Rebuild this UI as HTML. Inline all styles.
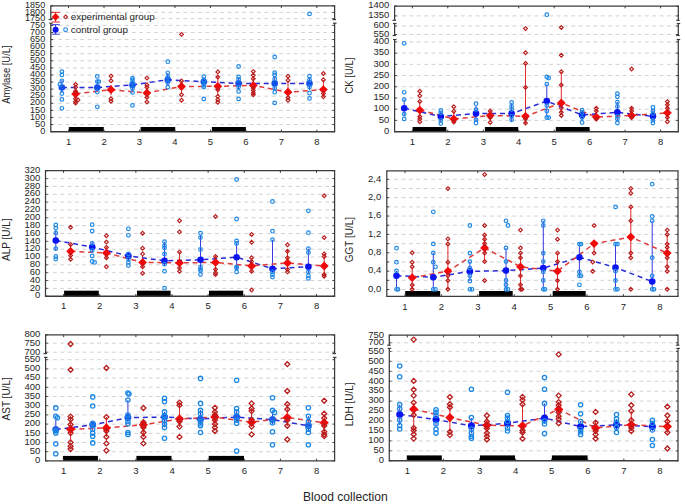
<!DOCTYPE html>
<html><head><meta charset="utf-8"><style>
html,body{margin:0;padding:0;background:#fff;}
svg{display:block;}
text{font-family:"Liberation Sans", sans-serif;fill:#262626;}
</style></head><body>
<svg width="685" height="504" viewBox="0 0 685 504">
<rect width="685" height="504" fill="#fff"/>
<line x1="52.8" y1="124.52" x2="332.6" y2="124.52" stroke="#d2d2d2" stroke-width="1.0" stroke-dasharray="3.8,3.56" stroke-dashoffset="1.9"/>
<line x1="52.8" y1="117.44" x2="332.6" y2="117.44" stroke="#d2d2d2" stroke-width="1.0" stroke-dasharray="3.8,3.56" stroke-dashoffset="1.9"/>
<line x1="52.8" y1="110.36" x2="332.6" y2="110.36" stroke="#d2d2d2" stroke-width="1.0" stroke-dasharray="3.8,3.56" stroke-dashoffset="1.9"/>
<line x1="52.8" y1="103.28" x2="332.6" y2="103.28" stroke="#d2d2d2" stroke-width="1.0" stroke-dasharray="3.8,3.56" stroke-dashoffset="1.9"/>
<line x1="52.8" y1="96.2" x2="332.6" y2="96.2" stroke="#d2d2d2" stroke-width="1.0" stroke-dasharray="3.8,3.56" stroke-dashoffset="1.9"/>
<line x1="52.8" y1="89.12" x2="332.6" y2="89.12" stroke="#d2d2d2" stroke-width="1.0" stroke-dasharray="3.8,3.56" stroke-dashoffset="1.9"/>
<line x1="52.8" y1="82.04" x2="332.6" y2="82.04" stroke="#d2d2d2" stroke-width="1.0" stroke-dasharray="3.8,3.56" stroke-dashoffset="1.9"/>
<line x1="52.8" y1="74.96" x2="332.6" y2="74.96" stroke="#d2d2d2" stroke-width="1.0" stroke-dasharray="3.8,3.56" stroke-dashoffset="1.9"/>
<line x1="52.8" y1="67.88" x2="332.6" y2="67.88" stroke="#d2d2d2" stroke-width="1.0" stroke-dasharray="3.8,3.56" stroke-dashoffset="1.9"/>
<line x1="52.8" y1="60.8" x2="332.6" y2="60.8" stroke="#d2d2d2" stroke-width="1.0" stroke-dasharray="3.8,3.56" stroke-dashoffset="1.9"/>
<line x1="52.8" y1="53.72" x2="332.6" y2="53.72" stroke="#d2d2d2" stroke-width="1.0" stroke-dasharray="3.8,3.56" stroke-dashoffset="1.9"/>
<line x1="52.8" y1="46.64" x2="332.6" y2="46.64" stroke="#d2d2d2" stroke-width="1.0" stroke-dasharray="3.8,3.56" stroke-dashoffset="1.9"/>
<line x1="52.8" y1="39.56" x2="332.6" y2="39.56" stroke="#d2d2d2" stroke-width="1.0" stroke-dasharray="3.8,3.56" stroke-dashoffset="1.9"/>
<line x1="52.8" y1="32.48" x2="332.6" y2="32.48" stroke="#d2d2d2" stroke-width="1.0" stroke-dasharray="3.8,3.56" stroke-dashoffset="1.9"/>
<line x1="52.8" y1="25.4" x2="332.6" y2="25.4" stroke="#d2d2d2" stroke-width="1.0" stroke-dasharray="3.8,3.56" stroke-dashoffset="1.9"/>
<line x1="52.8" y1="18.6" x2="332.6" y2="18.6" stroke="#d2d2d2" stroke-width="1.0" stroke-dasharray="3.8,3.56" stroke-dashoffset="1.9"/>
<line x1="52.8" y1="12.4" x2="332.6" y2="12.4" stroke="#d2d2d2" stroke-width="1.0" stroke-dasharray="3.8,3.56" stroke-dashoffset="1.9"/>
<rect x="68.8" y="127" width="35" height="4.8" fill="#000"/>
<rect x="140.6" y="127" width="34.6" height="4.8" fill="#000"/>
<rect x="211.9" y="127" width="34" height="4.8" fill="#000"/>
<line x1="61.9" y1="80" x2="61.9" y2="93" stroke="#3a3ae0" stroke-width="1" />
<line x1="75.6" y1="88" x2="75.6" y2="100" stroke="#e02a2a" stroke-width="1" />
<line x1="97.3" y1="81" x2="97.3" y2="92" stroke="#3a3ae0" stroke-width="1" />
<line x1="111" y1="85" x2="111" y2="95" stroke="#e02a2a" stroke-width="1" />
<line x1="132.5" y1="80" x2="132.5" y2="90" stroke="#3a3ae0" stroke-width="1" />
<line x1="146.9" y1="87" x2="146.9" y2="98" stroke="#e02a2a" stroke-width="1" />
<line x1="167.8" y1="73" x2="167.8" y2="86" stroke="#3a3ae0" stroke-width="1" />
<line x1="181.5" y1="81" x2="181.5" y2="94" stroke="#e02a2a" stroke-width="1" />
<line x1="203.8" y1="77" x2="203.8" y2="87" stroke="#3a3ae0" stroke-width="1" />
<line x1="217.8" y1="75" x2="217.8" y2="96" stroke="#e02a2a" stroke-width="1" />
<line x1="238.6" y1="77" x2="238.6" y2="90" stroke="#3a3ae0" stroke-width="1" />
<line x1="253.3" y1="78" x2="253.3" y2="93" stroke="#e02a2a" stroke-width="1" />
<line x1="274.7" y1="76" x2="274.7" y2="90" stroke="#3a3ae0" stroke-width="1" />
<line x1="288" y1="82" x2="288" y2="98" stroke="#e02a2a" stroke-width="1" />
<line x1="309.5" y1="77" x2="309.5" y2="90" stroke="#3a3ae0" stroke-width="1" />
<line x1="323.4" y1="80" x2="323.4" y2="97" stroke="#e02a2a" stroke-width="1" />
<polyline points="61.9,87.5 97.3,87.5 132.5,84.9 167.8,79.7 203.8,81.7 238.6,83.4 274.7,83.4 309.5,83.4" fill="none" stroke="#2b2bd6" stroke-width="1.5" stroke-dasharray="5,3.8"/>
<polyline points="75.6,93.9 111,89.7 146.9,92.9 181.5,86.5 217.8,86.3 253.3,85.4 288,92.2 323.4,89.6" fill="none" stroke="#e03a3a" stroke-width="1.5" stroke-dasharray="5,3.8"/>
<circle cx="61.9" cy="87.5" r="3.3" fill="#1350ea" stroke="none" stroke-width="0"/>
<path d="M75.6 89.5L80 93.9L75.6 98.3L71.2 93.9Z" fill="#f00a0a" stroke="none" stroke-width="0"/>
<circle cx="97.3" cy="87.5" r="3.3" fill="#1350ea" stroke="none" stroke-width="0"/>
<path d="M111 85.3L115.4 89.7L111 94.1L106.6 89.7Z" fill="#f00a0a" stroke="none" stroke-width="0"/>
<circle cx="132.5" cy="84.9" r="3.3" fill="#1350ea" stroke="none" stroke-width="0"/>
<path d="M146.9 88.5L151.3 92.9L146.9 97.3L142.5 92.9Z" fill="#f00a0a" stroke="none" stroke-width="0"/>
<circle cx="167.8" cy="79.7" r="3.3" fill="#1350ea" stroke="none" stroke-width="0"/>
<path d="M181.5 82.1L185.9 86.5L181.5 90.9L177.1 86.5Z" fill="#f00a0a" stroke="none" stroke-width="0"/>
<circle cx="203.8" cy="81.7" r="3.3" fill="#1350ea" stroke="none" stroke-width="0"/>
<path d="M217.8 81.9L222.2 86.3L217.8 90.7L213.4 86.3Z" fill="#f00a0a" stroke="none" stroke-width="0"/>
<circle cx="238.6" cy="83.4" r="3.3" fill="#1350ea" stroke="none" stroke-width="0"/>
<path d="M253.3 81L257.7 85.4L253.3 89.8L248.9 85.4Z" fill="#f00a0a" stroke="none" stroke-width="0"/>
<circle cx="274.7" cy="83.4" r="3.3" fill="#1350ea" stroke="none" stroke-width="0"/>
<path d="M288 87.8L292.4 92.2L288 96.6L283.6 92.2Z" fill="#f00a0a" stroke="none" stroke-width="0"/>
<circle cx="309.5" cy="83.4" r="3.3" fill="#1350ea" stroke="none" stroke-width="0"/>
<path d="M323.4 85.2L327.8 89.6L323.4 94L319 89.6Z" fill="#f00a0a" stroke="none" stroke-width="0"/>
<circle cx="61.9" cy="71.6" r="1.8" fill="none" stroke="#1e88e5" stroke-width="1.2"/>
<circle cx="61.9" cy="74.9" r="1.8" fill="none" stroke="#1e88e5" stroke-width="1.2"/>
<circle cx="61.9" cy="80.8" r="1.8" fill="none" stroke="#1e88e5" stroke-width="1.2"/>
<circle cx="59.9" cy="84.5" r="1.8" fill="none" stroke="#1e88e5" stroke-width="1.2"/>
<circle cx="61.9" cy="93.5" r="1.8" fill="none" stroke="#1e88e5" stroke-width="1.2"/>
<circle cx="61.9" cy="99.4" r="1.8" fill="none" stroke="#1e88e5" stroke-width="1.2"/>
<circle cx="61.9" cy="108.3" r="1.8" fill="none" stroke="#1e88e5" stroke-width="1.2"/>
<path d="M75.6 82.6L77.5 84.5L75.6 86.4L73.7 84.5Z" fill="none" stroke="#b81c1c" stroke-width="1.15"/>
<path d="M75.6 85.3L77.5 87.2L75.6 89.1L73.7 87.2Z" fill="none" stroke="#b81c1c" stroke-width="1.15"/>
<path d="M75.6 89.3L77.5 91.2L75.6 93.1L73.7 91.2Z" fill="none" stroke="#b81c1c" stroke-width="1.15"/>
<path d="M75.6 96.8L77.5 98.7L75.6 100.6L73.7 98.7Z" fill="none" stroke="#b81c1c" stroke-width="1.15"/>
<path d="M78 98L79.9 99.9L78 101.8L76.1 99.9Z" fill="none" stroke="#b81c1c" stroke-width="1.15"/>
<path d="M75.6 99.7L77.5 101.6L75.6 103.5L73.7 101.6Z" fill="none" stroke="#b81c1c" stroke-width="1.15"/>
<path d="M75.6 101.2L77.5 103.1L75.6 105L73.7 103.1Z" fill="none" stroke="#b81c1c" stroke-width="1.15"/>
<circle cx="97.3" cy="76.4" r="1.8" fill="none" stroke="#1e88e5" stroke-width="1.2"/>
<circle cx="97.3" cy="81.6" r="1.8" fill="none" stroke="#1e88e5" stroke-width="1.2"/>
<circle cx="98.8" cy="81.6" r="1.8" fill="none" stroke="#1e88e5" stroke-width="1.2"/>
<circle cx="97.3" cy="92" r="1.8" fill="none" stroke="#1e88e5" stroke-width="1.2"/>
<circle cx="97.3" cy="106.8" r="1.8" fill="none" stroke="#1e88e5" stroke-width="1.2"/>
<path d="M111 74.2L112.9 76.1L111 78L109.1 76.1Z" fill="none" stroke="#b81c1c" stroke-width="1.15"/>
<path d="M111 78.9L112.9 80.8L111 82.7L109.1 80.8Z" fill="none" stroke="#b81c1c" stroke-width="1.15"/>
<path d="M111 96.8L112.9 98.7L111 100.6L109.1 98.7Z" fill="none" stroke="#b81c1c" stroke-width="1.15"/>
<path d="M111 99.4L112.9 101.3L111 103.2L109.1 101.3Z" fill="none" stroke="#b81c1c" stroke-width="1.15"/>
<circle cx="132.5" cy="78.1" r="1.8" fill="none" stroke="#1e88e5" stroke-width="1.2"/>
<circle cx="132.5" cy="80" r="1.8" fill="none" stroke="#1e88e5" stroke-width="1.2"/>
<circle cx="132.5" cy="82.6" r="1.8" fill="none" stroke="#1e88e5" stroke-width="1.2"/>
<circle cx="132.5" cy="88.3" r="1.8" fill="none" stroke="#1e88e5" stroke-width="1.2"/>
<circle cx="132.5" cy="92.4" r="1.8" fill="none" stroke="#1e88e5" stroke-width="1.2"/>
<circle cx="132.5" cy="105.4" r="1.8" fill="none" stroke="#1e88e5" stroke-width="1.2"/>
<path d="M146.9 76.2L148.8 78.1L146.9 80L145 78.1Z" fill="none" stroke="#b81c1c" stroke-width="1.15"/>
<path d="M146.9 83L148.8 84.9L146.9 86.8L145 84.9Z" fill="none" stroke="#b81c1c" stroke-width="1.15"/>
<path d="M146.9 85.3L148.8 87.2L146.9 89.1L145 87.2Z" fill="none" stroke="#b81c1c" stroke-width="1.15"/>
<path d="M146.9 95.5L148.8 97.4L146.9 99.3L145 97.4Z" fill="none" stroke="#b81c1c" stroke-width="1.15"/>
<path d="M146.9 100.1L148.8 102L146.9 103.9L145 102Z" fill="none" stroke="#b81c1c" stroke-width="1.15"/>
<circle cx="167.8" cy="61.7" r="1.8" fill="none" stroke="#1e88e5" stroke-width="1.2"/>
<circle cx="167.8" cy="72.8" r="1.8" fill="none" stroke="#1e88e5" stroke-width="1.2"/>
<circle cx="167.8" cy="77" r="1.8" fill="none" stroke="#1e88e5" stroke-width="1.2"/>
<circle cx="167.8" cy="82.6" r="1.8" fill="none" stroke="#1e88e5" stroke-width="1.2"/>
<circle cx="167.8" cy="87.2" r="1.8" fill="none" stroke="#1e88e5" stroke-width="1.2"/>
<path d="M181.5 32.5L183.4 34.4L181.5 36.3L179.6 34.4Z" fill="none" stroke="#b81c1c" stroke-width="1.15"/>
<path d="M181.5 79.1L183.4 81L181.5 82.9L179.6 81Z" fill="none" stroke="#b81c1c" stroke-width="1.15"/>
<path d="M181.5 92.8L183.4 94.7L181.5 96.6L179.6 94.7Z" fill="none" stroke="#b81c1c" stroke-width="1.15"/>
<path d="M181.5 98.3L183.4 100.2L181.5 102.1L179.6 100.2Z" fill="none" stroke="#b81c1c" stroke-width="1.15"/>
<circle cx="203.8" cy="76.7" r="1.8" fill="none" stroke="#1e88e5" stroke-width="1.2"/>
<circle cx="203.8" cy="80.4" r="1.8" fill="none" stroke="#1e88e5" stroke-width="1.2"/>
<circle cx="203.8" cy="85.4" r="1.8" fill="none" stroke="#1e88e5" stroke-width="1.2"/>
<circle cx="203.8" cy="87.1" r="1.8" fill="none" stroke="#1e88e5" stroke-width="1.2"/>
<circle cx="203.8" cy="98.9" r="1.8" fill="none" stroke="#1e88e5" stroke-width="1.2"/>
<path d="M217.8 70L219.7 71.9L217.8 73.8L215.9 71.9Z" fill="none" stroke="#b81c1c" stroke-width="1.15"/>
<path d="M217.8 75.1L219.7 77L217.8 78.9L215.9 77Z" fill="none" stroke="#b81c1c" stroke-width="1.15"/>
<path d="M217.8 87.8L219.7 89.7L217.8 91.6L215.9 89.7Z" fill="none" stroke="#b81c1c" stroke-width="1.15"/>
<path d="M217.8 94.5L219.7 96.4L217.8 98.3L215.9 96.4Z" fill="none" stroke="#b81c1c" stroke-width="1.15"/>
<path d="M217.8 97.9L219.7 99.8L217.8 101.7L215.9 99.8Z" fill="none" stroke="#b81c1c" stroke-width="1.15"/>
<path d="M217.8 100.4L219.7 102.3L217.8 104.2L215.9 102.3Z" fill="none" stroke="#b81c1c" stroke-width="1.15"/>
<circle cx="238.6" cy="66.5" r="1.8" fill="none" stroke="#1e88e5" stroke-width="1.2"/>
<circle cx="238.6" cy="77" r="1.8" fill="none" stroke="#1e88e5" stroke-width="1.2"/>
<circle cx="238.6" cy="79.5" r="1.8" fill="none" stroke="#1e88e5" stroke-width="1.2"/>
<circle cx="238.6" cy="87.1" r="1.8" fill="none" stroke="#1e88e5" stroke-width="1.2"/>
<circle cx="238.6" cy="91.4" r="1.8" fill="none" stroke="#1e88e5" stroke-width="1.2"/>
<circle cx="238.6" cy="98.9" r="1.8" fill="none" stroke="#1e88e5" stroke-width="1.2"/>
<path d="M253.3 69.7L255.2 71.6L253.3 73.5L251.4 71.6Z" fill="none" stroke="#b81c1c" stroke-width="1.15"/>
<path d="M253.3 73.4L255.2 75.3L253.3 77.2L251.4 75.3Z" fill="none" stroke="#b81c1c" stroke-width="1.15"/>
<path d="M253.3 76.8L255.2 78.7L253.3 80.6L251.4 78.7Z" fill="none" stroke="#b81c1c" stroke-width="1.15"/>
<path d="M253.3 86.1L255.2 88L253.3 89.9L251.4 88Z" fill="none" stroke="#b81c1c" stroke-width="1.15"/>
<path d="M253.3 88.6L255.2 90.5L253.3 92.4L251.4 90.5Z" fill="none" stroke="#b81c1c" stroke-width="1.15"/>
<path d="M253.3 91.1L255.2 93L253.3 94.9L251.4 93Z" fill="none" stroke="#b81c1c" stroke-width="1.15"/>
<path d="M253.3 92.8L255.2 94.7L253.3 96.6L251.4 94.7Z" fill="none" stroke="#b81c1c" stroke-width="1.15"/>
<circle cx="274.7" cy="57" r="1.8" fill="none" stroke="#1e88e5" stroke-width="1.2"/>
<circle cx="274.7" cy="72.7" r="1.8" fill="none" stroke="#1e88e5" stroke-width="1.2"/>
<circle cx="274.7" cy="74.9" r="1.8" fill="none" stroke="#1e88e5" stroke-width="1.2"/>
<circle cx="274.7" cy="78.9" r="1.8" fill="none" stroke="#1e88e5" stroke-width="1.2"/>
<circle cx="274.7" cy="88.2" r="1.8" fill="none" stroke="#1e88e5" stroke-width="1.2"/>
<circle cx="274.7" cy="92.2" r="1.8" fill="none" stroke="#1e88e5" stroke-width="1.2"/>
<circle cx="274.7" cy="102.9" r="1.8" fill="none" stroke="#1e88e5" stroke-width="1.2"/>
<path d="M288 74.3L289.9 76.2L288 78.1L286.1 76.2Z" fill="none" stroke="#b81c1c" stroke-width="1.15"/>
<path d="M288 78.3L289.9 80.2L288 82.1L286.1 80.2Z" fill="none" stroke="#b81c1c" stroke-width="1.15"/>
<path d="M288 95.7L289.9 97.6L288 99.5L286.1 97.6Z" fill="none" stroke="#b81c1c" stroke-width="1.15"/>
<path d="M288 98.4L289.9 100.3L288 102.2L286.1 100.3Z" fill="none" stroke="#b81c1c" stroke-width="1.15"/>
<circle cx="309.5" cy="13.9" r="1.8" fill="none" stroke="#1e88e5" stroke-width="1.2"/>
<circle cx="309.5" cy="76.2" r="1.8" fill="none" stroke="#1e88e5" stroke-width="1.2"/>
<circle cx="309.5" cy="79.7" r="1.8" fill="none" stroke="#1e88e5" stroke-width="1.2"/>
<circle cx="309.5" cy="86.9" r="1.8" fill="none" stroke="#1e88e5" stroke-width="1.2"/>
<circle cx="309.5" cy="93" r="1.8" fill="none" stroke="#1e88e5" stroke-width="1.2"/>
<circle cx="309.5" cy="98.4" r="1.8" fill="none" stroke="#1e88e5" stroke-width="1.2"/>
<path d="M323.4 71.6L325.3 73.5L323.4 75.4L321.5 73.5Z" fill="none" stroke="#b81c1c" stroke-width="1.15"/>
<path d="M323.4 77.8L325.3 79.7L323.4 81.6L321.5 79.7Z" fill="none" stroke="#b81c1c" stroke-width="1.15"/>
<path d="M323.4 91.7L325.3 93.6L323.4 95.5L321.5 93.6Z" fill="none" stroke="#b81c1c" stroke-width="1.15"/>
<path d="M323.4 94.9L325.3 96.8L323.4 98.7L321.5 96.8Z" fill="none" stroke="#b81c1c" stroke-width="1.15"/>
<line x1="50.8" y1="5.8" x2="50.8" y2="19.6" stroke="#3c3c3c" stroke-width="1.25" />
<line x1="50.8" y1="23.2" x2="50.8" y2="131.8" stroke="#3c3c3c" stroke-width="1.25" />
<line x1="48.7" y1="19.6" x2="52.2" y2="19.6" stroke="#3c3c3c" stroke-width="1.2" />
<line x1="49.2" y1="23.2" x2="52.7" y2="23.2" stroke="#3c3c3c" stroke-width="1.2" />
<line x1="334.6" y1="5.8" x2="334.6" y2="19.6" stroke="#3c3c3c" stroke-width="1.25" />
<line x1="334.6" y1="23.2" x2="334.6" y2="131.8" stroke="#3c3c3c" stroke-width="1.25" />
<line x1="332.5" y1="19.6" x2="336" y2="19.6" stroke="#3c3c3c" stroke-width="1.2" />
<line x1="333" y1="23.2" x2="336.5" y2="23.2" stroke="#3c3c3c" stroke-width="1.2" />
<line x1="50.2" y1="5.8" x2="335.2" y2="5.8" stroke="#3c3c3c" stroke-width="1.3" />
<line x1="50.2" y1="131.8" x2="335.2" y2="131.8" stroke="#3c3c3c" stroke-width="1.4" />
<line x1="50.8" y1="131.6" x2="53" y2="131.6" stroke="#3c3c3c" stroke-width="1" />
<line x1="334.6" y1="131.6" x2="332.4" y2="131.6" stroke="#3c3c3c" stroke-width="1" />
<line x1="50.8" y1="124.52" x2="53" y2="124.52" stroke="#3c3c3c" stroke-width="1" />
<line x1="334.6" y1="124.52" x2="332.4" y2="124.52" stroke="#3c3c3c" stroke-width="1" />
<line x1="50.8" y1="117.44" x2="53" y2="117.44" stroke="#3c3c3c" stroke-width="1" />
<line x1="334.6" y1="117.44" x2="332.4" y2="117.44" stroke="#3c3c3c" stroke-width="1" />
<line x1="50.8" y1="110.36" x2="53" y2="110.36" stroke="#3c3c3c" stroke-width="1" />
<line x1="334.6" y1="110.36" x2="332.4" y2="110.36" stroke="#3c3c3c" stroke-width="1" />
<line x1="50.8" y1="103.28" x2="53" y2="103.28" stroke="#3c3c3c" stroke-width="1" />
<line x1="334.6" y1="103.28" x2="332.4" y2="103.28" stroke="#3c3c3c" stroke-width="1" />
<line x1="50.8" y1="96.2" x2="53" y2="96.2" stroke="#3c3c3c" stroke-width="1" />
<line x1="334.6" y1="96.2" x2="332.4" y2="96.2" stroke="#3c3c3c" stroke-width="1" />
<line x1="50.8" y1="89.12" x2="53" y2="89.12" stroke="#3c3c3c" stroke-width="1" />
<line x1="334.6" y1="89.12" x2="332.4" y2="89.12" stroke="#3c3c3c" stroke-width="1" />
<line x1="50.8" y1="82.04" x2="53" y2="82.04" stroke="#3c3c3c" stroke-width="1" />
<line x1="334.6" y1="82.04" x2="332.4" y2="82.04" stroke="#3c3c3c" stroke-width="1" />
<line x1="50.8" y1="74.96" x2="53" y2="74.96" stroke="#3c3c3c" stroke-width="1" />
<line x1="334.6" y1="74.96" x2="332.4" y2="74.96" stroke="#3c3c3c" stroke-width="1" />
<line x1="50.8" y1="67.88" x2="53" y2="67.88" stroke="#3c3c3c" stroke-width="1" />
<line x1="334.6" y1="67.88" x2="332.4" y2="67.88" stroke="#3c3c3c" stroke-width="1" />
<line x1="50.8" y1="60.8" x2="53" y2="60.8" stroke="#3c3c3c" stroke-width="1" />
<line x1="334.6" y1="60.8" x2="332.4" y2="60.8" stroke="#3c3c3c" stroke-width="1" />
<line x1="50.8" y1="53.72" x2="53" y2="53.72" stroke="#3c3c3c" stroke-width="1" />
<line x1="334.6" y1="53.72" x2="332.4" y2="53.72" stroke="#3c3c3c" stroke-width="1" />
<line x1="50.8" y1="46.64" x2="53" y2="46.64" stroke="#3c3c3c" stroke-width="1" />
<line x1="334.6" y1="46.64" x2="332.4" y2="46.64" stroke="#3c3c3c" stroke-width="1" />
<line x1="50.8" y1="39.56" x2="53" y2="39.56" stroke="#3c3c3c" stroke-width="1" />
<line x1="334.6" y1="39.56" x2="332.4" y2="39.56" stroke="#3c3c3c" stroke-width="1" />
<line x1="50.8" y1="32.48" x2="53" y2="32.48" stroke="#3c3c3c" stroke-width="1" />
<line x1="334.6" y1="32.48" x2="332.4" y2="32.48" stroke="#3c3c3c" stroke-width="1" />
<line x1="50.8" y1="25.4" x2="53" y2="25.4" stroke="#3c3c3c" stroke-width="1" />
<line x1="334.6" y1="25.4" x2="332.4" y2="25.4" stroke="#3c3c3c" stroke-width="1" />
<line x1="50.8" y1="18.6" x2="53" y2="18.6" stroke="#3c3c3c" stroke-width="1" />
<line x1="334.6" y1="18.6" x2="332.4" y2="18.6" stroke="#3c3c3c" stroke-width="1" />
<line x1="50.8" y1="12.4" x2="53" y2="12.4" stroke="#3c3c3c" stroke-width="1" />
<line x1="334.6" y1="12.4" x2="332.4" y2="12.4" stroke="#3c3c3c" stroke-width="1" />
<line x1="50.8" y1="5.8" x2="53" y2="5.8" stroke="#3c3c3c" stroke-width="1" />
<line x1="334.6" y1="5.8" x2="332.4" y2="5.8" stroke="#3c3c3c" stroke-width="1" />
<line x1="68.54" y1="5.8" x2="68.54" y2="8" stroke="#3c3c3c" stroke-width="1" />
<line x1="68.54" y1="131.8" x2="68.54" y2="129.6" stroke="#3c3c3c" stroke-width="1" />
<line x1="104.01" y1="5.8" x2="104.01" y2="8" stroke="#3c3c3c" stroke-width="1" />
<line x1="104.01" y1="131.8" x2="104.01" y2="129.6" stroke="#3c3c3c" stroke-width="1" />
<line x1="139.49" y1="5.8" x2="139.49" y2="8" stroke="#3c3c3c" stroke-width="1" />
<line x1="139.49" y1="131.8" x2="139.49" y2="129.6" stroke="#3c3c3c" stroke-width="1" />
<line x1="174.96" y1="5.8" x2="174.96" y2="8" stroke="#3c3c3c" stroke-width="1" />
<line x1="174.96" y1="131.8" x2="174.96" y2="129.6" stroke="#3c3c3c" stroke-width="1" />
<line x1="210.44" y1="5.8" x2="210.44" y2="8" stroke="#3c3c3c" stroke-width="1" />
<line x1="210.44" y1="131.8" x2="210.44" y2="129.6" stroke="#3c3c3c" stroke-width="1" />
<line x1="245.91" y1="5.8" x2="245.91" y2="8" stroke="#3c3c3c" stroke-width="1" />
<line x1="245.91" y1="131.8" x2="245.91" y2="129.6" stroke="#3c3c3c" stroke-width="1" />
<line x1="281.39" y1="5.8" x2="281.39" y2="8" stroke="#3c3c3c" stroke-width="1" />
<line x1="281.39" y1="131.8" x2="281.39" y2="129.6" stroke="#3c3c3c" stroke-width="1" />
<line x1="316.86" y1="5.8" x2="316.86" y2="8" stroke="#3c3c3c" stroke-width="1" />
<line x1="316.86" y1="131.8" x2="316.86" y2="129.6" stroke="#3c3c3c" stroke-width="1" />
<text transform="translate(45.2,133.8) scale(0.96,1.0)" font-size="9.5" text-anchor="end">0</text>
<text transform="translate(45.2,126.72) scale(0.96,1.0)" font-size="9.5" text-anchor="end">50</text>
<text transform="translate(45.2,119.64) scale(0.96,1.0)" font-size="9.5" text-anchor="end">100</text>
<text transform="translate(45.2,112.56) scale(0.96,1.0)" font-size="9.5" text-anchor="end">150</text>
<text transform="translate(45.2,105.48) scale(0.96,1.0)" font-size="9.5" text-anchor="end">200</text>
<text transform="translate(45.2,98.4) scale(0.96,1.0)" font-size="9.5" text-anchor="end">250</text>
<text transform="translate(45.2,91.32) scale(0.96,1.0)" font-size="9.5" text-anchor="end">300</text>
<text transform="translate(45.2,84.24) scale(0.96,1.0)" font-size="9.5" text-anchor="end">350</text>
<text transform="translate(45.2,77.16) scale(0.96,1.0)" font-size="9.5" text-anchor="end">400</text>
<text transform="translate(45.2,70.08) scale(0.96,1.0)" font-size="9.5" text-anchor="end">450</text>
<text transform="translate(45.2,63) scale(0.96,1.0)" font-size="9.5" text-anchor="end">500</text>
<text transform="translate(45.2,55.92) scale(0.96,1.0)" font-size="9.5" text-anchor="end">550</text>
<text transform="translate(45.2,48.84) scale(0.96,1.0)" font-size="9.5" text-anchor="end">600</text>
<text transform="translate(45.2,41.76) scale(0.96,1.0)" font-size="9.5" text-anchor="end">650</text>
<text transform="translate(45.2,34.68) scale(0.96,1.0)" font-size="9.5" text-anchor="end">700</text>
<text transform="translate(45.2,27.6) scale(0.96,1.0)" font-size="9.5" text-anchor="end">750</text>
<text transform="translate(45.2,20.8) scale(0.96,1.0)" font-size="9.5" text-anchor="end">1750</text>
<text transform="translate(45.2,14.6) scale(0.96,1.0)" font-size="9.5" text-anchor="end">1800</text>
<text transform="translate(45.2,8.1) scale(0.96,1.0)" font-size="9.5" text-anchor="end">1850</text>
<text transform="translate(68.54,145) scale(1,1.04)" font-size="9.5" text-anchor="middle">1</text>
<text transform="translate(104.01,145) scale(1,1.04)" font-size="9.5" text-anchor="middle">2</text>
<text transform="translate(139.49,145) scale(1,1.04)" font-size="9.5" text-anchor="middle">3</text>
<text transform="translate(174.96,145) scale(1,1.04)" font-size="9.5" text-anchor="middle">4</text>
<text transform="translate(210.44,145) scale(1,1.04)" font-size="9.5" text-anchor="middle">5</text>
<text transform="translate(245.91,145) scale(1,1.04)" font-size="9.5" text-anchor="middle">6</text>
<text transform="translate(281.39,145) scale(1,1.04)" font-size="9.5" text-anchor="middle">7</text>
<text transform="translate(316.86,145) scale(1,1.04)" font-size="9.5" text-anchor="middle">8</text>
<text transform="translate(9.6,74.65) rotate(-90) scale(0.94,1)" font-size="10" text-anchor="middle">Amylase [U/L]</text>
<line x1="396.6" y1="120.39" x2="676.3" y2="120.39" stroke="#d2d2d2" stroke-width="1.0" stroke-dasharray="3.8,3.56" stroke-dashoffset="1.9"/>
<line x1="396.6" y1="109.18" x2="676.3" y2="109.18" stroke="#d2d2d2" stroke-width="1.0" stroke-dasharray="3.8,3.56" stroke-dashoffset="1.9"/>
<line x1="396.6" y1="97.97" x2="676.3" y2="97.97" stroke="#d2d2d2" stroke-width="1.0" stroke-dasharray="3.8,3.56" stroke-dashoffset="1.9"/>
<line x1="396.6" y1="86.76" x2="676.3" y2="86.76" stroke="#d2d2d2" stroke-width="1.0" stroke-dasharray="3.8,3.56" stroke-dashoffset="1.9"/>
<line x1="396.6" y1="75.55" x2="676.3" y2="75.55" stroke="#d2d2d2" stroke-width="1.0" stroke-dasharray="3.8,3.56" stroke-dashoffset="1.9"/>
<line x1="396.6" y1="64.34" x2="676.3" y2="64.34" stroke="#d2d2d2" stroke-width="1.0" stroke-dasharray="3.8,3.56" stroke-dashoffset="1.9"/>
<line x1="396.6" y1="53.13" x2="676.3" y2="53.13" stroke="#d2d2d2" stroke-width="1.0" stroke-dasharray="3.8,3.56" stroke-dashoffset="1.9"/>
<line x1="396.6" y1="41.92" x2="676.3" y2="41.92" stroke="#d2d2d2" stroke-width="1.0" stroke-dasharray="3.8,3.56" stroke-dashoffset="1.9"/>
<line x1="396.6" y1="34.5" x2="676.3" y2="34.5" stroke="#d2d2d2" stroke-width="1.0" stroke-dasharray="3.8,3.56" stroke-dashoffset="1.9"/>
<line x1="396.6" y1="26" x2="676.3" y2="26" stroke="#d2d2d2" stroke-width="1.0" stroke-dasharray="3.8,3.56" stroke-dashoffset="1.9"/>
<line x1="396.6" y1="15.9" x2="676.3" y2="15.9" stroke="#d2d2d2" stroke-width="1.0" stroke-dasharray="3.8,3.56" stroke-dashoffset="1.9"/>
<rect x="412.6" y="127" width="33.8" height="4.8" fill="#000"/>
<rect x="484.9" y="127" width="33.3" height="4.8" fill="#000"/>
<rect x="555.8" y="127" width="33.8" height="4.8" fill="#000"/>
<line x1="404.2" y1="99.6" x2="404.2" y2="116" stroke="#3a3ae0" stroke-width="1" />
<line x1="419.8" y1="101.5" x2="419.8" y2="119" stroke="#e02a2a" stroke-width="1" />
<line x1="440.8" y1="111" x2="440.8" y2="122" stroke="#3a3ae0" stroke-width="1" />
<line x1="453.8" y1="111" x2="453.8" y2="123" stroke="#e02a2a" stroke-width="1" />
<line x1="476" y1="106" x2="476" y2="121" stroke="#3a3ae0" stroke-width="1" />
<line x1="490.2" y1="110" x2="490.2" y2="121" stroke="#e02a2a" stroke-width="1" />
<line x1="511.6" y1="103" x2="511.6" y2="122" stroke="#3a3ae0" stroke-width="1" />
<line x1="525.5" y1="63.4" x2="525.5" y2="125" stroke="#e02a2a" stroke-width="1" />
<line x1="546.8" y1="84.2" x2="546.8" y2="117" stroke="#3a3ae0" stroke-width="1" />
<line x1="561.3" y1="71.7" x2="561.3" y2="115" stroke="#e02a2a" stroke-width="1" />
<line x1="582.1" y1="110" x2="582.1" y2="120" stroke="#3a3ae0" stroke-width="1" />
<line x1="596.3" y1="109" x2="596.3" y2="121" stroke="#e02a2a" stroke-width="1" />
<line x1="617.4" y1="102" x2="617.4" y2="120" stroke="#3a3ae0" stroke-width="1" />
<line x1="631.6" y1="108" x2="631.6" y2="120" stroke="#e02a2a" stroke-width="1" />
<line x1="652.9" y1="109" x2="652.9" y2="122" stroke="#3a3ae0" stroke-width="1" />
<line x1="667.4" y1="104" x2="667.4" y2="120" stroke="#e02a2a" stroke-width="1" />
<polyline points="404.2,108.2 440.8,116.5 476,113.6 511.6,113.6 546.8,101.1 582.1,115 617.4,112.3 652.9,116.3" fill="none" stroke="#2b2bd6" stroke-width="1.5" stroke-dasharray="5,3.8"/>
<polyline points="419.8,110.1 453.8,119 490.2,115.5 525.5,116.3 561.3,102.9 596.3,117.1 631.6,115.5 667.4,112.8" fill="none" stroke="#e03a3a" stroke-width="1.5" stroke-dasharray="5,3.8"/>
<circle cx="404.2" cy="108.2" r="3.3" fill="#0a14f0" stroke="none" stroke-width="0"/>
<path d="M419.8 105.7L424.2 110.1L419.8 114.5L415.4 110.1Z" fill="#f00a0a" stroke="none" stroke-width="0"/>
<circle cx="440.8" cy="116.5" r="3.3" fill="#0a14f0" stroke="none" stroke-width="0"/>
<path d="M453.8 114.6L458.2 119L453.8 123.4L449.4 119Z" fill="#f00a0a" stroke="none" stroke-width="0"/>
<circle cx="476" cy="113.6" r="3.3" fill="#0a14f0" stroke="none" stroke-width="0"/>
<path d="M490.2 111.1L494.6 115.5L490.2 119.9L485.8 115.5Z" fill="#f00a0a" stroke="none" stroke-width="0"/>
<circle cx="511.6" cy="113.6" r="3.3" fill="#0a14f0" stroke="none" stroke-width="0"/>
<path d="M525.5 111.9L529.9 116.3L525.5 120.7L521.1 116.3Z" fill="#f00a0a" stroke="none" stroke-width="0"/>
<circle cx="546.8" cy="101.1" r="3.3" fill="#0a14f0" stroke="none" stroke-width="0"/>
<path d="M561.3 98.5L565.7 102.9L561.3 107.3L556.9 102.9Z" fill="#f00a0a" stroke="none" stroke-width="0"/>
<circle cx="582.1" cy="115" r="3.3" fill="#0a14f0" stroke="none" stroke-width="0"/>
<path d="M596.3 112.7L600.7 117.1L596.3 121.5L591.9 117.1Z" fill="#f00a0a" stroke="none" stroke-width="0"/>
<circle cx="617.4" cy="112.3" r="3.3" fill="#0a14f0" stroke="none" stroke-width="0"/>
<path d="M631.6 111.1L636 115.5L631.6 119.9L627.2 115.5Z" fill="#f00a0a" stroke="none" stroke-width="0"/>
<circle cx="652.9" cy="116.3" r="3.3" fill="#0a14f0" stroke="none" stroke-width="0"/>
<path d="M667.4 108.4L671.8 112.8L667.4 117.2L663 112.8Z" fill="#f00a0a" stroke="none" stroke-width="0"/>
<circle cx="404.2" cy="43.3" r="1.8" fill="none" stroke="#1e88e5" stroke-width="1.2"/>
<circle cx="404.2" cy="92.3" r="1.8" fill="none" stroke="#1e88e5" stroke-width="1.2"/>
<circle cx="404.2" cy="99.6" r="1.8" fill="none" stroke="#1e88e5" stroke-width="1.2"/>
<circle cx="404.2" cy="114.1" r="1.8" fill="none" stroke="#1e88e5" stroke-width="1.2"/>
<circle cx="404.2" cy="118.9" r="1.8" fill="none" stroke="#1e88e5" stroke-width="1.2"/>
<path d="M419.8 89.3L421.7 91.2L419.8 93.1L417.9 91.2Z" fill="none" stroke="#b81c1c" stroke-width="1.15"/>
<path d="M419.8 93.9L421.7 95.8L419.8 97.7L417.9 95.8Z" fill="none" stroke="#b81c1c" stroke-width="1.15"/>
<path d="M419.8 99.6L421.7 101.5L419.8 103.4L417.9 101.5Z" fill="none" stroke="#b81c1c" stroke-width="1.15"/>
<path d="M419.8 114.6L421.7 116.5L419.8 118.4L417.9 116.5Z" fill="none" stroke="#b81c1c" stroke-width="1.15"/>
<path d="M419.8 117L421.7 118.9L419.8 120.8L417.9 118.9Z" fill="none" stroke="#b81c1c" stroke-width="1.15"/>
<path d="M419.8 119.8L421.7 121.7L419.8 123.6L417.9 121.7Z" fill="none" stroke="#b81c1c" stroke-width="1.15"/>
<circle cx="440.8" cy="110.4" r="1.8" fill="none" stroke="#1e88e5" stroke-width="1.2"/>
<circle cx="440.8" cy="112.8" r="1.8" fill="none" stroke="#1e88e5" stroke-width="1.2"/>
<circle cx="440.8" cy="120.3" r="1.8" fill="none" stroke="#1e88e5" stroke-width="1.2"/>
<circle cx="440.8" cy="123.6" r="1.8" fill="none" stroke="#1e88e5" stroke-width="1.2"/>
<path d="M453.8 104.8L455.7 106.7L453.8 108.6L451.9 106.7Z" fill="none" stroke="#b81c1c" stroke-width="1.15"/>
<path d="M453.8 109.3L455.7 111.2L453.8 113.1L451.9 111.2Z" fill="none" stroke="#b81c1c" stroke-width="1.15"/>
<path d="M453.8 120.1L455.7 122L453.8 123.9L451.9 122Z" fill="none" stroke="#b81c1c" stroke-width="1.15"/>
<circle cx="476" cy="103.7" r="1.8" fill="none" stroke="#1e88e5" stroke-width="1.2"/>
<circle cx="476" cy="109.6" r="1.8" fill="none" stroke="#1e88e5" stroke-width="1.2"/>
<circle cx="476" cy="119.8" r="1.8" fill="none" stroke="#1e88e5" stroke-width="1.2"/>
<circle cx="476" cy="123" r="1.8" fill="none" stroke="#1e88e5" stroke-width="1.2"/>
<path d="M490.2 109.1L492.1 111L490.2 112.9L488.3 111Z" fill="none" stroke="#b81c1c" stroke-width="1.15"/>
<path d="M490.2 115.7L492.1 117.6L490.2 119.5L488.3 117.6Z" fill="none" stroke="#b81c1c" stroke-width="1.15"/>
<path d="M490.2 120.6L492.1 122.5L490.2 124.4L488.3 122.5Z" fill="none" stroke="#b81c1c" stroke-width="1.15"/>
<circle cx="511.6" cy="102.4" r="1.8" fill="none" stroke="#1e88e5" stroke-width="1.2"/>
<circle cx="511.6" cy="106.4" r="1.8" fill="none" stroke="#1e88e5" stroke-width="1.2"/>
<circle cx="511.6" cy="109.6" r="1.8" fill="none" stroke="#1e88e5" stroke-width="1.2"/>
<circle cx="511.6" cy="116.3" r="1.8" fill="none" stroke="#1e88e5" stroke-width="1.2"/>
<circle cx="511.6" cy="119.8" r="1.8" fill="none" stroke="#1e88e5" stroke-width="1.2"/>
<path d="M525.5 26.7L527.4 28.6L525.5 30.5L523.6 28.6Z" fill="none" stroke="#b81c1c" stroke-width="1.15"/>
<path d="M525.5 50.8L527.4 52.7L525.5 54.6L523.6 52.7Z" fill="none" stroke="#b81c1c" stroke-width="1.15"/>
<path d="M525.5 61.5L527.4 63.4L525.5 65.3L523.6 63.4Z" fill="none" stroke="#b81c1c" stroke-width="1.15"/>
<path d="M525.5 85.5L527.4 87.4L525.5 89.3L523.6 87.4Z" fill="none" stroke="#b81c1c" stroke-width="1.15"/>
<path d="M525.5 117.1L527.4 119L525.5 120.9L523.6 119Z" fill="none" stroke="#b81c1c" stroke-width="1.15"/>
<path d="M525.5 121.1L527.4 123L525.5 124.9L523.6 123Z" fill="none" stroke="#b81c1c" stroke-width="1.15"/>
<circle cx="546.8" cy="14.7" r="1.8" fill="none" stroke="#1e88e5" stroke-width="1.2"/>
<circle cx="546.8" cy="77" r="1.8" fill="none" stroke="#1e88e5" stroke-width="1.2"/>
<circle cx="548.7" cy="78.1" r="1.8" fill="none" stroke="#1e88e5" stroke-width="1.2"/>
<circle cx="546.8" cy="84.2" r="1.8" fill="none" stroke="#1e88e5" stroke-width="1.2"/>
<circle cx="546.8" cy="105.6" r="1.8" fill="none" stroke="#1e88e5" stroke-width="1.2"/>
<circle cx="546.8" cy="111" r="1.8" fill="none" stroke="#1e88e5" stroke-width="1.2"/>
<circle cx="546.8" cy="117.6" r="1.8" fill="none" stroke="#1e88e5" stroke-width="1.2"/>
<circle cx="548.7" cy="117.6" r="1.8" fill="none" stroke="#1e88e5" stroke-width="1.2"/>
<path d="M561.3 25.6L563.2 27.5L561.3 29.4L559.4 27.5Z" fill="none" stroke="#b81c1c" stroke-width="1.15"/>
<path d="M561.3 53.4L563.2 55.3L561.3 57.2L559.4 55.3Z" fill="none" stroke="#b81c1c" stroke-width="1.15"/>
<path d="M561.3 69.8L563.2 71.7L561.3 73.6L559.4 71.7Z" fill="none" stroke="#b81c1c" stroke-width="1.15"/>
<path d="M561.3 83.1L563.2 85L561.3 86.9L559.4 85Z" fill="none" stroke="#b81c1c" stroke-width="1.15"/>
<path d="M561.3 106.1L563.2 108L561.3 109.9L559.4 108Z" fill="none" stroke="#b81c1c" stroke-width="1.15"/>
<path d="M561.3 110.4L563.2 112.3L561.3 114.2L559.4 112.3Z" fill="none" stroke="#b81c1c" stroke-width="1.15"/>
<path d="M561.3 113.6L563.2 115.5L561.3 117.4L559.4 115.5Z" fill="none" stroke="#b81c1c" stroke-width="1.15"/>
<circle cx="582.1" cy="110.2" r="1.8" fill="none" stroke="#1e88e5" stroke-width="1.2"/>
<circle cx="582.1" cy="112.5" r="1.8" fill="none" stroke="#1e88e5" stroke-width="1.2"/>
<circle cx="582.1" cy="117.6" r="1.8" fill="none" stroke="#1e88e5" stroke-width="1.2"/>
<circle cx="582.1" cy="122.5" r="1.8" fill="none" stroke="#1e88e5" stroke-width="1.2"/>
<path d="M596.3 106.4L598.2 108.3L596.3 110.2L594.4 108.3Z" fill="none" stroke="#b81c1c" stroke-width="1.15"/>
<path d="M596.3 109.1L598.2 111L596.3 112.9L594.4 111Z" fill="none" stroke="#b81c1c" stroke-width="1.15"/>
<path d="M596.3 117.1L598.2 119L596.3 120.9L594.4 119Z" fill="none" stroke="#b81c1c" stroke-width="1.15"/>
<circle cx="617.4" cy="93.6" r="1.8" fill="none" stroke="#1e88e5" stroke-width="1.2"/>
<circle cx="617.4" cy="96.8" r="1.8" fill="none" stroke="#1e88e5" stroke-width="1.2"/>
<circle cx="617.4" cy="102.1" r="1.8" fill="none" stroke="#1e88e5" stroke-width="1.2"/>
<circle cx="617.4" cy="106.4" r="1.8" fill="none" stroke="#1e88e5" stroke-width="1.2"/>
<circle cx="617.4" cy="116.3" r="1.8" fill="none" stroke="#1e88e5" stroke-width="1.2"/>
<circle cx="617.4" cy="119" r="1.8" fill="none" stroke="#1e88e5" stroke-width="1.2"/>
<circle cx="617.4" cy="123" r="1.8" fill="none" stroke="#1e88e5" stroke-width="1.2"/>
<path d="M631.6 67.1L633.5 69L631.6 70.9L629.7 69Z" fill="none" stroke="#b81c1c" stroke-width="1.15"/>
<path d="M631.6 106.4L633.5 108.3L631.6 110.2L629.7 108.3Z" fill="none" stroke="#b81c1c" stroke-width="1.15"/>
<path d="M631.6 109.1L633.5 111L631.6 112.9L629.7 111Z" fill="none" stroke="#b81c1c" stroke-width="1.15"/>
<path d="M631.6 115.7L633.5 117.6L631.6 119.5L629.7 117.6Z" fill="none" stroke="#b81c1c" stroke-width="1.15"/>
<circle cx="652.9" cy="107.5" r="1.8" fill="none" stroke="#1e88e5" stroke-width="1.2"/>
<circle cx="652.9" cy="111" r="1.8" fill="none" stroke="#1e88e5" stroke-width="1.2"/>
<circle cx="652.9" cy="113.6" r="1.8" fill="none" stroke="#1e88e5" stroke-width="1.2"/>
<circle cx="652.9" cy="120.3" r="1.8" fill="none" stroke="#1e88e5" stroke-width="1.2"/>
<circle cx="652.9" cy="123" r="1.8" fill="none" stroke="#1e88e5" stroke-width="1.2"/>
<path d="M667.4 99.7L669.3 101.6L667.4 103.5L665.5 101.6Z" fill="none" stroke="#b81c1c" stroke-width="1.15"/>
<path d="M667.4 102.9L669.3 104.8L667.4 106.7L665.5 104.8Z" fill="none" stroke="#b81c1c" stroke-width="1.15"/>
<path d="M667.4 106.4L669.3 108.3L667.4 110.2L665.5 108.3Z" fill="none" stroke="#b81c1c" stroke-width="1.15"/>
<path d="M667.4 115.7L669.3 117.6L667.4 119.5L665.5 117.6Z" fill="none" stroke="#b81c1c" stroke-width="1.15"/>
<path d="M667.4 119.8L669.3 121.7L667.4 123.6L665.5 121.7Z" fill="none" stroke="#b81c1c" stroke-width="1.15"/>
<line x1="394.6" y1="6.1" x2="394.6" y2="20.3" stroke="#3c3c3c" stroke-width="1.25" />
<line x1="394.6" y1="23.5" x2="394.6" y2="35.5" stroke="#3c3c3c" stroke-width="1.25" />
<line x1="394.6" y1="39.5" x2="394.6" y2="131.8" stroke="#3c3c3c" stroke-width="1.25" />
<line x1="392.5" y1="20.3" x2="396" y2="20.3" stroke="#3c3c3c" stroke-width="1.2" />
<line x1="393" y1="23.5" x2="396.5" y2="23.5" stroke="#3c3c3c" stroke-width="1.2" />
<line x1="392.5" y1="35.5" x2="396" y2="35.5" stroke="#3c3c3c" stroke-width="1.2" />
<line x1="393" y1="39.5" x2="396.5" y2="39.5" stroke="#3c3c3c" stroke-width="1.2" />
<line x1="678.3" y1="6.1" x2="678.3" y2="20.3" stroke="#3c3c3c" stroke-width="1.25" />
<line x1="678.3" y1="23.5" x2="678.3" y2="35.5" stroke="#3c3c3c" stroke-width="1.25" />
<line x1="678.3" y1="39.5" x2="678.3" y2="131.8" stroke="#3c3c3c" stroke-width="1.25" />
<line x1="676.2" y1="20.3" x2="679.7" y2="20.3" stroke="#3c3c3c" stroke-width="1.2" />
<line x1="676.7" y1="23.5" x2="680.2" y2="23.5" stroke="#3c3c3c" stroke-width="1.2" />
<line x1="676.2" y1="35.5" x2="679.7" y2="35.5" stroke="#3c3c3c" stroke-width="1.2" />
<line x1="676.7" y1="39.5" x2="680.2" y2="39.5" stroke="#3c3c3c" stroke-width="1.2" />
<line x1="394" y1="6.1" x2="678.9" y2="6.1" stroke="#3c3c3c" stroke-width="1.3" />
<line x1="394" y1="131.8" x2="678.9" y2="131.8" stroke="#3c3c3c" stroke-width="1.4" />
<line x1="394.6" y1="131.6" x2="396.8" y2="131.6" stroke="#3c3c3c" stroke-width="1" />
<line x1="678.3" y1="131.6" x2="676.1" y2="131.6" stroke="#3c3c3c" stroke-width="1" />
<line x1="394.6" y1="120.39" x2="396.8" y2="120.39" stroke="#3c3c3c" stroke-width="1" />
<line x1="678.3" y1="120.39" x2="676.1" y2="120.39" stroke="#3c3c3c" stroke-width="1" />
<line x1="394.6" y1="109.18" x2="396.8" y2="109.18" stroke="#3c3c3c" stroke-width="1" />
<line x1="678.3" y1="109.18" x2="676.1" y2="109.18" stroke="#3c3c3c" stroke-width="1" />
<line x1="394.6" y1="97.97" x2="396.8" y2="97.97" stroke="#3c3c3c" stroke-width="1" />
<line x1="678.3" y1="97.97" x2="676.1" y2="97.97" stroke="#3c3c3c" stroke-width="1" />
<line x1="394.6" y1="86.76" x2="396.8" y2="86.76" stroke="#3c3c3c" stroke-width="1" />
<line x1="678.3" y1="86.76" x2="676.1" y2="86.76" stroke="#3c3c3c" stroke-width="1" />
<line x1="394.6" y1="75.55" x2="396.8" y2="75.55" stroke="#3c3c3c" stroke-width="1" />
<line x1="678.3" y1="75.55" x2="676.1" y2="75.55" stroke="#3c3c3c" stroke-width="1" />
<line x1="394.6" y1="64.34" x2="396.8" y2="64.34" stroke="#3c3c3c" stroke-width="1" />
<line x1="678.3" y1="64.34" x2="676.1" y2="64.34" stroke="#3c3c3c" stroke-width="1" />
<line x1="394.6" y1="53.13" x2="396.8" y2="53.13" stroke="#3c3c3c" stroke-width="1" />
<line x1="678.3" y1="53.13" x2="676.1" y2="53.13" stroke="#3c3c3c" stroke-width="1" />
<line x1="394.6" y1="41.92" x2="396.8" y2="41.92" stroke="#3c3c3c" stroke-width="1" />
<line x1="678.3" y1="41.92" x2="676.1" y2="41.92" stroke="#3c3c3c" stroke-width="1" />
<line x1="394.6" y1="34.5" x2="396.8" y2="34.5" stroke="#3c3c3c" stroke-width="1" />
<line x1="678.3" y1="34.5" x2="676.1" y2="34.5" stroke="#3c3c3c" stroke-width="1" />
<line x1="394.6" y1="26" x2="396.8" y2="26" stroke="#3c3c3c" stroke-width="1" />
<line x1="678.3" y1="26" x2="676.1" y2="26" stroke="#3c3c3c" stroke-width="1" />
<line x1="394.6" y1="15.9" x2="396.8" y2="15.9" stroke="#3c3c3c" stroke-width="1" />
<line x1="678.3" y1="15.9" x2="676.1" y2="15.9" stroke="#3c3c3c" stroke-width="1" />
<line x1="394.6" y1="6.1" x2="396.8" y2="6.1" stroke="#3c3c3c" stroke-width="1" />
<line x1="678.3" y1="6.1" x2="676.1" y2="6.1" stroke="#3c3c3c" stroke-width="1" />
<line x1="412.33" y1="6.1" x2="412.33" y2="8.3" stroke="#3c3c3c" stroke-width="1" />
<line x1="412.33" y1="131.8" x2="412.33" y2="129.6" stroke="#3c3c3c" stroke-width="1" />
<line x1="447.79" y1="6.1" x2="447.79" y2="8.3" stroke="#3c3c3c" stroke-width="1" />
<line x1="447.79" y1="131.8" x2="447.79" y2="129.6" stroke="#3c3c3c" stroke-width="1" />
<line x1="483.26" y1="6.1" x2="483.26" y2="8.3" stroke="#3c3c3c" stroke-width="1" />
<line x1="483.26" y1="131.8" x2="483.26" y2="129.6" stroke="#3c3c3c" stroke-width="1" />
<line x1="518.72" y1="6.1" x2="518.72" y2="8.3" stroke="#3c3c3c" stroke-width="1" />
<line x1="518.72" y1="131.8" x2="518.72" y2="129.6" stroke="#3c3c3c" stroke-width="1" />
<line x1="554.18" y1="6.1" x2="554.18" y2="8.3" stroke="#3c3c3c" stroke-width="1" />
<line x1="554.18" y1="131.8" x2="554.18" y2="129.6" stroke="#3c3c3c" stroke-width="1" />
<line x1="589.64" y1="6.1" x2="589.64" y2="8.3" stroke="#3c3c3c" stroke-width="1" />
<line x1="589.64" y1="131.8" x2="589.64" y2="129.6" stroke="#3c3c3c" stroke-width="1" />
<line x1="625.11" y1="6.1" x2="625.11" y2="8.3" stroke="#3c3c3c" stroke-width="1" />
<line x1="625.11" y1="131.8" x2="625.11" y2="129.6" stroke="#3c3c3c" stroke-width="1" />
<line x1="660.57" y1="6.1" x2="660.57" y2="8.3" stroke="#3c3c3c" stroke-width="1" />
<line x1="660.57" y1="131.8" x2="660.57" y2="129.6" stroke="#3c3c3c" stroke-width="1" />
<text transform="translate(389.4,133.8) scale(1.0,1.0)" font-size="9.5" text-anchor="end">0</text>
<text transform="translate(389.4,122.59) scale(1.0,1.0)" font-size="9.5" text-anchor="end">50</text>
<text transform="translate(389.4,111.38) scale(1.0,1.0)" font-size="9.5" text-anchor="end">100</text>
<text transform="translate(389.4,100.17) scale(1.0,1.0)" font-size="9.5" text-anchor="end">150</text>
<text transform="translate(389.4,88.96) scale(1.0,1.0)" font-size="9.5" text-anchor="end">200</text>
<text transform="translate(389.4,77.75) scale(1.0,1.0)" font-size="9.5" text-anchor="end">250</text>
<text transform="translate(389.4,66.54) scale(1.0,1.0)" font-size="9.5" text-anchor="end">300</text>
<text transform="translate(389.4,55.33) scale(1.0,1.0)" font-size="9.5" text-anchor="end">350</text>
<text transform="translate(389.4,44.12) scale(1.0,1.0)" font-size="9.5" text-anchor="end">400</text>
<text transform="translate(389.4,36.7) scale(1.0,1.0)" font-size="9.5" text-anchor="end">550</text>
<text transform="translate(389.4,28.2) scale(1.0,1.0)" font-size="9.5" text-anchor="end">600</text>
<text transform="translate(389.4,18.1) scale(1.0,1.0)" font-size="9.5" text-anchor="end">1350</text>
<text transform="translate(389.4,8.4) scale(1.0,1.0)" font-size="9.5" text-anchor="end">1400</text>
<text transform="translate(412.33,145) scale(1,1.04)" font-size="9.5" text-anchor="middle">1</text>
<text transform="translate(447.79,145) scale(1,1.04)" font-size="9.5" text-anchor="middle">2</text>
<text transform="translate(483.26,145) scale(1,1.04)" font-size="9.5" text-anchor="middle">3</text>
<text transform="translate(518.72,145) scale(1,1.04)" font-size="9.5" text-anchor="middle">4</text>
<text transform="translate(554.18,145) scale(1,1.04)" font-size="9.5" text-anchor="middle">5</text>
<text transform="translate(589.64,145) scale(1,1.04)" font-size="9.5" text-anchor="middle">6</text>
<text transform="translate(625.11,145) scale(1,1.04)" font-size="9.5" text-anchor="middle">7</text>
<text transform="translate(660.57,145) scale(1,1.04)" font-size="9.5" text-anchor="middle">8</text>
<text transform="translate(353.4,75.55) rotate(-90) scale(0.95,1)" font-size="10" text-anchor="middle">CK [U/L]</text>
<line x1="47.5" y1="288.36" x2="332.6" y2="288.36" stroke="#d2d2d2" stroke-width="1.0" stroke-dasharray="3.8,3.56" stroke-dashoffset="1.9"/>
<line x1="47.5" y1="280.52" x2="332.6" y2="280.52" stroke="#d2d2d2" stroke-width="1.0" stroke-dasharray="3.8,3.56" stroke-dashoffset="1.9"/>
<line x1="47.5" y1="272.68" x2="332.6" y2="272.68" stroke="#d2d2d2" stroke-width="1.0" stroke-dasharray="3.8,3.56" stroke-dashoffset="1.9"/>
<line x1="47.5" y1="264.84" x2="332.6" y2="264.84" stroke="#d2d2d2" stroke-width="1.0" stroke-dasharray="3.8,3.56" stroke-dashoffset="1.9"/>
<line x1="47.5" y1="257" x2="332.6" y2="257" stroke="#d2d2d2" stroke-width="1.0" stroke-dasharray="3.8,3.56" stroke-dashoffset="1.9"/>
<line x1="47.5" y1="249.16" x2="332.6" y2="249.16" stroke="#d2d2d2" stroke-width="1.0" stroke-dasharray="3.8,3.56" stroke-dashoffset="1.9"/>
<line x1="47.5" y1="241.32" x2="332.6" y2="241.32" stroke="#d2d2d2" stroke-width="1.0" stroke-dasharray="3.8,3.56" stroke-dashoffset="1.9"/>
<line x1="47.5" y1="233.48" x2="332.6" y2="233.48" stroke="#d2d2d2" stroke-width="1.0" stroke-dasharray="3.8,3.56" stroke-dashoffset="1.9"/>
<line x1="47.5" y1="225.64" x2="332.6" y2="225.64" stroke="#d2d2d2" stroke-width="1.0" stroke-dasharray="3.8,3.56" stroke-dashoffset="1.9"/>
<line x1="47.5" y1="217.8" x2="332.6" y2="217.8" stroke="#d2d2d2" stroke-width="1.0" stroke-dasharray="3.8,3.56" stroke-dashoffset="1.9"/>
<line x1="47.5" y1="209.96" x2="332.6" y2="209.96" stroke="#d2d2d2" stroke-width="1.0" stroke-dasharray="3.8,3.56" stroke-dashoffset="1.9"/>
<line x1="47.5" y1="202.12" x2="332.6" y2="202.12" stroke="#d2d2d2" stroke-width="1.0" stroke-dasharray="3.8,3.56" stroke-dashoffset="1.9"/>
<line x1="47.5" y1="194.28" x2="332.6" y2="194.28" stroke="#d2d2d2" stroke-width="1.0" stroke-dasharray="3.8,3.56" stroke-dashoffset="1.9"/>
<line x1="47.5" y1="186.44" x2="332.6" y2="186.44" stroke="#d2d2d2" stroke-width="1.0" stroke-dasharray="3.8,3.56" stroke-dashoffset="1.9"/>
<line x1="47.5" y1="178.6" x2="332.6" y2="178.6" stroke="#d2d2d2" stroke-width="1.0" stroke-dasharray="3.8,3.56" stroke-dashoffset="1.9"/>
<rect x="64.1" y="290.7" width="34.7" height="5.5" fill="#000"/>
<rect x="137" y="290.7" width="33.6" height="5.5" fill="#000"/>
<rect x="209" y="290.7" width="34.2" height="5.5" fill="#000"/>
<line x1="55.8" y1="230" x2="55.8" y2="250" stroke="#3a3ae0" stroke-width="1" />
<line x1="70.6" y1="244" x2="70.6" y2="259" stroke="#e02a2a" stroke-width="1" />
<line x1="92.2" y1="242" x2="92.2" y2="252" stroke="#3a3ae0" stroke-width="1" />
<line x1="106.4" y1="247" x2="106.4" y2="259" stroke="#e02a2a" stroke-width="1" />
<line x1="128.4" y1="252" x2="128.4" y2="262" stroke="#3a3ae0" stroke-width="1" />
<line x1="142.6" y1="256" x2="142.6" y2="268" stroke="#e02a2a" stroke-width="1" />
<line x1="164.5" y1="242" x2="164.5" y2="266" stroke="#3a3ae0" stroke-width="1" />
<line x1="179.5" y1="252" x2="179.5" y2="270" stroke="#e02a2a" stroke-width="1" />
<line x1="200.5" y1="235" x2="200.5" y2="270" stroke="#3a3ae0" stroke-width="1" />
<line x1="215.5" y1="256" x2="215.5" y2="272" stroke="#e02a2a" stroke-width="1" />
<line x1="236.6" y1="243" x2="236.6" y2="268" stroke="#3a3ae0" stroke-width="1" />
<line x1="251.6" y1="258" x2="251.6" y2="272" stroke="#e02a2a" stroke-width="1" />
<line x1="272.5" y1="239.7" x2="272.5" y2="272" stroke="#3a3ae0" stroke-width="1" />
<line x1="287.5" y1="251" x2="287.5" y2="270" stroke="#e02a2a" stroke-width="1" />
<line x1="308.4" y1="248.7" x2="308.4" y2="274" stroke="#3a3ae0" stroke-width="1" />
<line x1="324.2" y1="254" x2="324.2" y2="274" stroke="#e02a2a" stroke-width="1" />
<polyline points="55.8,240.5 92.2,247 128.4,255.9 164.5,260.8 200.5,259.8 236.6,257.2 272.5,268.8 308.4,266.8" fill="none" stroke="#2b2bd6" stroke-width="1.5" stroke-dasharray="5,3.8"/>
<polyline points="70.6,251.3 106.4,253 142.6,262.4 179.5,262.9 215.5,262.4 251.6,266 287.5,262.9 324.2,266" fill="none" stroke="#e03a3a" stroke-width="1.5" stroke-dasharray="5,3.8"/>
<circle cx="55.8" cy="240.5" r="3.3" fill="#0a14f0" stroke="none" stroke-width="0"/>
<path d="M70.6 246.9L75 251.3L70.6 255.7L66.2 251.3Z" fill="#f00a0a" stroke="none" stroke-width="0"/>
<circle cx="92.2" cy="247" r="3.3" fill="#0a14f0" stroke="none" stroke-width="0"/>
<path d="M106.4 248.6L110.8 253L106.4 257.4L102 253Z" fill="#f00a0a" stroke="none" stroke-width="0"/>
<circle cx="128.4" cy="255.9" r="3.3" fill="#0a14f0" stroke="none" stroke-width="0"/>
<path d="M142.6 258L147 262.4L142.6 266.8L138.2 262.4Z" fill="#f00a0a" stroke="none" stroke-width="0"/>
<circle cx="164.5" cy="260.8" r="3.3" fill="#0a14f0" stroke="none" stroke-width="0"/>
<path d="M179.5 258.5L183.9 262.9L179.5 267.3L175.1 262.9Z" fill="#f00a0a" stroke="none" stroke-width="0"/>
<circle cx="200.5" cy="259.8" r="3.3" fill="#0a14f0" stroke="none" stroke-width="0"/>
<path d="M215.5 258L219.9 262.4L215.5 266.8L211.1 262.4Z" fill="#f00a0a" stroke="none" stroke-width="0"/>
<circle cx="236.6" cy="257.2" r="3.3" fill="#0a14f0" stroke="none" stroke-width="0"/>
<path d="M251.6 261.6L256 266L251.6 270.4L247.2 266Z" fill="#f00a0a" stroke="none" stroke-width="0"/>
<circle cx="272.5" cy="268.8" r="3.3" fill="#0a14f0" stroke="none" stroke-width="0"/>
<path d="M287.5 258.5L291.9 262.9L287.5 267.3L283.1 262.9Z" fill="#f00a0a" stroke="none" stroke-width="0"/>
<circle cx="308.4" cy="266.8" r="3.3" fill="#0a14f0" stroke="none" stroke-width="0"/>
<path d="M324.2 261.6L328.6 266L324.2 270.4L319.8 266Z" fill="#f00a0a" stroke="none" stroke-width="0"/>
<circle cx="55.8" cy="225" r="1.8" fill="none" stroke="#1e88e5" stroke-width="1.2"/>
<circle cx="55.8" cy="228.1" r="1.8" fill="none" stroke="#1e88e5" stroke-width="1.2"/>
<circle cx="55.8" cy="233.2" r="1.8" fill="none" stroke="#1e88e5" stroke-width="1.2"/>
<circle cx="55.8" cy="248.7" r="1.8" fill="none" stroke="#1e88e5" stroke-width="1.2"/>
<circle cx="55.8" cy="256.5" r="1.8" fill="none" stroke="#1e88e5" stroke-width="1.2"/>
<circle cx="55.8" cy="259" r="1.8" fill="none" stroke="#1e88e5" stroke-width="1.2"/>
<path d="M70.6 225.4L72.5 227.3L70.6 229.2L68.7 227.3Z" fill="none" stroke="#b81c1c" stroke-width="1.15"/>
<path d="M70.6 242.7L72.5 244.6L70.6 246.5L68.7 244.6Z" fill="none" stroke="#b81c1c" stroke-width="1.15"/>
<path d="M70.6 253.5L72.5 255.4L70.6 257.3L68.7 255.4Z" fill="none" stroke="#b81c1c" stroke-width="1.15"/>
<path d="M70.6 257.3L72.5 259.2L70.6 261.1L68.7 259.2Z" fill="none" stroke="#b81c1c" stroke-width="1.15"/>
<circle cx="92.2" cy="224.7" r="1.8" fill="none" stroke="#1e88e5" stroke-width="1.2"/>
<circle cx="92.2" cy="230.9" r="1.8" fill="none" stroke="#1e88e5" stroke-width="1.2"/>
<circle cx="92.2" cy="243.3" r="1.8" fill="none" stroke="#1e88e5" stroke-width="1.2"/>
<circle cx="92.2" cy="250.5" r="1.8" fill="none" stroke="#1e88e5" stroke-width="1.2"/>
<circle cx="92.2" cy="256" r="1.8" fill="none" stroke="#1e88e5" stroke-width="1.2"/>
<circle cx="92.2" cy="261.5" r="1.8" fill="none" stroke="#1e88e5" stroke-width="1.2"/>
<circle cx="94.6" cy="262.4" r="1.8" fill="none" stroke="#1e88e5" stroke-width="1.2"/>
<path d="M106.4 233.8L108.3 235.7L106.4 237.6L104.5 235.7Z" fill="none" stroke="#b81c1c" stroke-width="1.15"/>
<path d="M106.4 240.2L108.3 242.1L106.4 244L104.5 242.1Z" fill="none" stroke="#b81c1c" stroke-width="1.15"/>
<path d="M106.4 245.5L108.3 247.4L106.4 249.3L104.5 247.4Z" fill="none" stroke="#b81c1c" stroke-width="1.15"/>
<path d="M106.4 255.8L108.3 257.7L106.4 259.6L104.5 257.7Z" fill="none" stroke="#b81c1c" stroke-width="1.15"/>
<path d="M106.4 264.9L108.3 266.8L106.4 268.7L104.5 266.8Z" fill="none" stroke="#b81c1c" stroke-width="1.15"/>
<circle cx="128.4" cy="228.8" r="1.8" fill="none" stroke="#1e88e5" stroke-width="1.2"/>
<circle cx="128.4" cy="235.3" r="1.8" fill="none" stroke="#1e88e5" stroke-width="1.2"/>
<circle cx="128.4" cy="253.9" r="1.8" fill="none" stroke="#1e88e5" stroke-width="1.2"/>
<circle cx="128.4" cy="259" r="1.8" fill="none" stroke="#1e88e5" stroke-width="1.2"/>
<circle cx="128.4" cy="262.4" r="1.8" fill="none" stroke="#1e88e5" stroke-width="1.2"/>
<circle cx="128.4" cy="265.5" r="1.8" fill="none" stroke="#1e88e5" stroke-width="1.2"/>
<path d="M142.6 231.3L144.5 233.2L142.6 235.1L140.7 233.2Z" fill="none" stroke="#b81c1c" stroke-width="1.15"/>
<path d="M142.6 246.3L144.5 248.2L142.6 250.1L140.7 248.2Z" fill="none" stroke="#b81c1c" stroke-width="1.15"/>
<path d="M142.6 252L144.5 253.9L142.6 255.8L140.7 253.9Z" fill="none" stroke="#b81c1c" stroke-width="1.15"/>
<path d="M142.6 264.9L144.5 266.8L142.6 268.7L140.7 266.8Z" fill="none" stroke="#b81c1c" stroke-width="1.15"/>
<path d="M142.6 271.3L144.5 273.2L142.6 275.1L140.7 273.2Z" fill="none" stroke="#b81c1c" stroke-width="1.15"/>
<circle cx="164.5" cy="241.7" r="1.8" fill="none" stroke="#1e88e5" stroke-width="1.2"/>
<circle cx="164.5" cy="245.6" r="1.8" fill="none" stroke="#1e88e5" stroke-width="1.2"/>
<circle cx="164.5" cy="247.9" r="1.8" fill="none" stroke="#1e88e5" stroke-width="1.2"/>
<circle cx="164.5" cy="253.9" r="1.8" fill="none" stroke="#1e88e5" stroke-width="1.2"/>
<circle cx="164.5" cy="264.2" r="1.8" fill="none" stroke="#1e88e5" stroke-width="1.2"/>
<circle cx="164.5" cy="271.2" r="1.8" fill="none" stroke="#1e88e5" stroke-width="1.2"/>
<circle cx="164.5" cy="288.2" r="1.8" fill="none" stroke="#1e88e5" stroke-width="1.2"/>
<path d="M179.5 218.9L181.4 220.8L179.5 222.7L177.6 220.8Z" fill="none" stroke="#b81c1c" stroke-width="1.15"/>
<path d="M179.5 230L181.4 231.9L179.5 233.8L177.6 231.9Z" fill="none" stroke="#b81c1c" stroke-width="1.15"/>
<path d="M179.5 250.2L181.4 252.1L179.5 254L177.6 252.1Z" fill="none" stroke="#b81c1c" stroke-width="1.15"/>
<path d="M179.5 266.2L181.4 268.1L179.5 270L177.6 268.1Z" fill="none" stroke="#b81c1c" stroke-width="1.15"/>
<path d="M179.5 269.3L181.4 271.2L179.5 273.1L177.6 271.2Z" fill="none" stroke="#b81c1c" stroke-width="1.15"/>
<circle cx="200.5" cy="233.2" r="1.8" fill="none" stroke="#1e88e5" stroke-width="1.2"/>
<circle cx="200.5" cy="237.6" r="1.8" fill="none" stroke="#1e88e5" stroke-width="1.2"/>
<circle cx="200.5" cy="249.5" r="1.8" fill="none" stroke="#1e88e5" stroke-width="1.2"/>
<circle cx="200.5" cy="266.8" r="1.8" fill="none" stroke="#1e88e5" stroke-width="1.2"/>
<circle cx="200.5" cy="269.4" r="1.8" fill="none" stroke="#1e88e5" stroke-width="1.2"/>
<circle cx="200.5" cy="270.6" r="1.8" fill="none" stroke="#1e88e5" stroke-width="1.2"/>
<circle cx="200.5" cy="274.5" r="1.8" fill="none" stroke="#1e88e5" stroke-width="1.2"/>
<path d="M215.5 214.6L217.4 216.5L215.5 218.4L213.6 216.5Z" fill="none" stroke="#b81c1c" stroke-width="1.15"/>
<path d="M215.5 254.6L217.4 256.5L215.5 258.4L213.6 256.5Z" fill="none" stroke="#b81c1c" stroke-width="1.15"/>
<path d="M215.5 267.5L217.4 269.4L215.5 271.3L213.6 269.4Z" fill="none" stroke="#b81c1c" stroke-width="1.15"/>
<path d="M215.5 270.8L217.4 272.7L215.5 274.6L213.6 272.7Z" fill="none" stroke="#b81c1c" stroke-width="1.15"/>
<path d="M215.5 272.6L217.4 274.5L215.5 276.4L213.6 274.5Z" fill="none" stroke="#b81c1c" stroke-width="1.15"/>
<circle cx="236.6" cy="179.5" r="1.8" fill="none" stroke="#1e88e5" stroke-width="1.2"/>
<circle cx="236.6" cy="219" r="1.8" fill="none" stroke="#1e88e5" stroke-width="1.2"/>
<circle cx="236.6" cy="241" r="1.8" fill="none" stroke="#1e88e5" stroke-width="1.2"/>
<circle cx="236.6" cy="243.5" r="1.8" fill="none" stroke="#1e88e5" stroke-width="1.2"/>
<circle cx="236.6" cy="266.8" r="1.8" fill="none" stroke="#1e88e5" stroke-width="1.2"/>
<circle cx="236.6" cy="268.1" r="1.8" fill="none" stroke="#1e88e5" stroke-width="1.2"/>
<circle cx="236.6" cy="271.9" r="1.8" fill="none" stroke="#1e88e5" stroke-width="1.2"/>
<path d="M251.6 232.6L253.5 234.5L251.6 236.4L249.7 234.5Z" fill="none" stroke="#b81c1c" stroke-width="1.15"/>
<path d="M251.6 240.4L253.5 242.3L251.6 244.2L249.7 242.3Z" fill="none" stroke="#b81c1c" stroke-width="1.15"/>
<path d="M251.6 255.8L253.5 257.7L251.6 259.6L249.7 257.7Z" fill="none" stroke="#b81c1c" stroke-width="1.15"/>
<path d="M251.6 259.7L253.5 261.6L251.6 263.5L249.7 261.6Z" fill="none" stroke="#b81c1c" stroke-width="1.15"/>
<path d="M251.6 269.3L253.5 271.2L251.6 273.1L249.7 271.2Z" fill="none" stroke="#b81c1c" stroke-width="1.15"/>
<path d="M251.6 288.1L253.5 290L251.6 291.9L249.7 290Z" fill="none" stroke="#b81c1c" stroke-width="1.15"/>
<circle cx="272.5" cy="201.5" r="1.8" fill="none" stroke="#1e88e5" stroke-width="1.2"/>
<circle cx="272.5" cy="231.2" r="1.8" fill="none" stroke="#1e88e5" stroke-width="1.2"/>
<circle cx="272.5" cy="239.7" r="1.8" fill="none" stroke="#1e88e5" stroke-width="1.2"/>
<circle cx="272.5" cy="271.9" r="1.8" fill="none" stroke="#1e88e5" stroke-width="1.2"/>
<circle cx="272.5" cy="274.5" r="1.8" fill="none" stroke="#1e88e5" stroke-width="1.2"/>
<circle cx="272.5" cy="277.1" r="1.8" fill="none" stroke="#1e88e5" stroke-width="1.2"/>
<path d="M287.5 242.9L289.4 244.8L287.5 246.7L285.6 244.8Z" fill="none" stroke="#b81c1c" stroke-width="1.15"/>
<path d="M287.5 249.4L289.4 251.3L287.5 253.2L285.6 251.3Z" fill="none" stroke="#b81c1c" stroke-width="1.15"/>
<path d="M287.5 255.8L289.4 257.7L287.5 259.6L285.6 257.7Z" fill="none" stroke="#b81c1c" stroke-width="1.15"/>
<path d="M287.5 267.5L289.4 269.4L287.5 271.3L285.6 269.4Z" fill="none" stroke="#b81c1c" stroke-width="1.15"/>
<path d="M287.5 270L289.4 271.9L287.5 273.8L285.6 271.9Z" fill="none" stroke="#b81c1c" stroke-width="1.15"/>
<circle cx="308.4" cy="210.8" r="1.8" fill="none" stroke="#1e88e5" stroke-width="1.2"/>
<circle cx="308.4" cy="232.7" r="1.8" fill="none" stroke="#1e88e5" stroke-width="1.2"/>
<circle cx="308.4" cy="248.7" r="1.8" fill="none" stroke="#1e88e5" stroke-width="1.2"/>
<circle cx="308.4" cy="252.6" r="1.8" fill="none" stroke="#1e88e5" stroke-width="1.2"/>
<circle cx="308.4" cy="271.9" r="1.8" fill="none" stroke="#1e88e5" stroke-width="1.2"/>
<circle cx="308.4" cy="275.8" r="1.8" fill="none" stroke="#1e88e5" stroke-width="1.2"/>
<circle cx="308.4" cy="278.4" r="1.8" fill="none" stroke="#1e88e5" stroke-width="1.2"/>
<path d="M324.2 193.9L326.1 195.8L324.2 197.7L322.3 195.8Z" fill="none" stroke="#b81c1c" stroke-width="1.15"/>
<path d="M324.2 235.7L326.1 237.6L324.2 239.5L322.3 237.6Z" fill="none" stroke="#b81c1c" stroke-width="1.15"/>
<path d="M324.2 252L326.1 253.9L324.2 255.8L322.3 253.9Z" fill="none" stroke="#b81c1c" stroke-width="1.15"/>
<path d="M324.2 254.6L326.1 256.5L324.2 258.4L322.3 256.5Z" fill="none" stroke="#b81c1c" stroke-width="1.15"/>
<path d="M324.2 272.6L326.1 274.5L324.2 276.4L322.3 274.5Z" fill="none" stroke="#b81c1c" stroke-width="1.15"/>
<path d="M324.2 274.4L326.1 276.3L324.2 278.2L322.3 276.3Z" fill="none" stroke="#b81c1c" stroke-width="1.15"/>
<line x1="45.5" y1="170.7" x2="45.5" y2="296.2" stroke="#3c3c3c" stroke-width="1.25" />
<line x1="334.6" y1="170.7" x2="334.6" y2="296.2" stroke="#3c3c3c" stroke-width="1.25" />
<line x1="44.9" y1="170.7" x2="335.2" y2="170.7" stroke="#3c3c3c" stroke-width="1.3" />
<line x1="44.9" y1="296.2" x2="335.2" y2="296.2" stroke="#3c3c3c" stroke-width="1.4" />
<line x1="45.5" y1="296.2" x2="47.7" y2="296.2" stroke="#3c3c3c" stroke-width="1" />
<line x1="334.6" y1="296.2" x2="332.4" y2="296.2" stroke="#3c3c3c" stroke-width="1" />
<line x1="45.5" y1="288.36" x2="47.7" y2="288.36" stroke="#3c3c3c" stroke-width="1" />
<line x1="334.6" y1="288.36" x2="332.4" y2="288.36" stroke="#3c3c3c" stroke-width="1" />
<line x1="45.5" y1="280.52" x2="47.7" y2="280.52" stroke="#3c3c3c" stroke-width="1" />
<line x1="334.6" y1="280.52" x2="332.4" y2="280.52" stroke="#3c3c3c" stroke-width="1" />
<line x1="45.5" y1="272.68" x2="47.7" y2="272.68" stroke="#3c3c3c" stroke-width="1" />
<line x1="334.6" y1="272.68" x2="332.4" y2="272.68" stroke="#3c3c3c" stroke-width="1" />
<line x1="45.5" y1="264.84" x2="47.7" y2="264.84" stroke="#3c3c3c" stroke-width="1" />
<line x1="334.6" y1="264.84" x2="332.4" y2="264.84" stroke="#3c3c3c" stroke-width="1" />
<line x1="45.5" y1="257" x2="47.7" y2="257" stroke="#3c3c3c" stroke-width="1" />
<line x1="334.6" y1="257" x2="332.4" y2="257" stroke="#3c3c3c" stroke-width="1" />
<line x1="45.5" y1="249.16" x2="47.7" y2="249.16" stroke="#3c3c3c" stroke-width="1" />
<line x1="334.6" y1="249.16" x2="332.4" y2="249.16" stroke="#3c3c3c" stroke-width="1" />
<line x1="45.5" y1="241.32" x2="47.7" y2="241.32" stroke="#3c3c3c" stroke-width="1" />
<line x1="334.6" y1="241.32" x2="332.4" y2="241.32" stroke="#3c3c3c" stroke-width="1" />
<line x1="45.5" y1="233.48" x2="47.7" y2="233.48" stroke="#3c3c3c" stroke-width="1" />
<line x1="334.6" y1="233.48" x2="332.4" y2="233.48" stroke="#3c3c3c" stroke-width="1" />
<line x1="45.5" y1="225.64" x2="47.7" y2="225.64" stroke="#3c3c3c" stroke-width="1" />
<line x1="334.6" y1="225.64" x2="332.4" y2="225.64" stroke="#3c3c3c" stroke-width="1" />
<line x1="45.5" y1="217.8" x2="47.7" y2="217.8" stroke="#3c3c3c" stroke-width="1" />
<line x1="334.6" y1="217.8" x2="332.4" y2="217.8" stroke="#3c3c3c" stroke-width="1" />
<line x1="45.5" y1="209.96" x2="47.7" y2="209.96" stroke="#3c3c3c" stroke-width="1" />
<line x1="334.6" y1="209.96" x2="332.4" y2="209.96" stroke="#3c3c3c" stroke-width="1" />
<line x1="45.5" y1="202.12" x2="47.7" y2="202.12" stroke="#3c3c3c" stroke-width="1" />
<line x1="334.6" y1="202.12" x2="332.4" y2="202.12" stroke="#3c3c3c" stroke-width="1" />
<line x1="45.5" y1="194.28" x2="47.7" y2="194.28" stroke="#3c3c3c" stroke-width="1" />
<line x1="334.6" y1="194.28" x2="332.4" y2="194.28" stroke="#3c3c3c" stroke-width="1" />
<line x1="45.5" y1="186.44" x2="47.7" y2="186.44" stroke="#3c3c3c" stroke-width="1" />
<line x1="334.6" y1="186.44" x2="332.4" y2="186.44" stroke="#3c3c3c" stroke-width="1" />
<line x1="45.5" y1="178.6" x2="47.7" y2="178.6" stroke="#3c3c3c" stroke-width="1" />
<line x1="334.6" y1="178.6" x2="332.4" y2="178.6" stroke="#3c3c3c" stroke-width="1" />
<line x1="45.5" y1="170.76" x2="47.7" y2="170.76" stroke="#3c3c3c" stroke-width="1" />
<line x1="334.6" y1="170.76" x2="332.4" y2="170.76" stroke="#3c3c3c" stroke-width="1" />
<line x1="63.57" y1="170.7" x2="63.57" y2="172.9" stroke="#3c3c3c" stroke-width="1" />
<line x1="63.57" y1="296.2" x2="63.57" y2="294" stroke="#3c3c3c" stroke-width="1" />
<line x1="99.71" y1="170.7" x2="99.71" y2="172.9" stroke="#3c3c3c" stroke-width="1" />
<line x1="99.71" y1="296.2" x2="99.71" y2="294" stroke="#3c3c3c" stroke-width="1" />
<line x1="135.84" y1="170.7" x2="135.84" y2="172.9" stroke="#3c3c3c" stroke-width="1" />
<line x1="135.84" y1="296.2" x2="135.84" y2="294" stroke="#3c3c3c" stroke-width="1" />
<line x1="171.98" y1="170.7" x2="171.98" y2="172.9" stroke="#3c3c3c" stroke-width="1" />
<line x1="171.98" y1="296.2" x2="171.98" y2="294" stroke="#3c3c3c" stroke-width="1" />
<line x1="208.12" y1="170.7" x2="208.12" y2="172.9" stroke="#3c3c3c" stroke-width="1" />
<line x1="208.12" y1="296.2" x2="208.12" y2="294" stroke="#3c3c3c" stroke-width="1" />
<line x1="244.26" y1="170.7" x2="244.26" y2="172.9" stroke="#3c3c3c" stroke-width="1" />
<line x1="244.26" y1="296.2" x2="244.26" y2="294" stroke="#3c3c3c" stroke-width="1" />
<line x1="280.39" y1="170.7" x2="280.39" y2="172.9" stroke="#3c3c3c" stroke-width="1" />
<line x1="280.39" y1="296.2" x2="280.39" y2="294" stroke="#3c3c3c" stroke-width="1" />
<line x1="316.53" y1="170.7" x2="316.53" y2="172.9" stroke="#3c3c3c" stroke-width="1" />
<line x1="316.53" y1="296.2" x2="316.53" y2="294" stroke="#3c3c3c" stroke-width="1" />
<text transform="translate(40.4,298.4) scale(1.0,1.0)" font-size="9.5" text-anchor="end">0</text>
<text transform="translate(40.4,290.56) scale(1.0,1.0)" font-size="9.5" text-anchor="end">20</text>
<text transform="translate(40.4,282.72) scale(1.0,1.0)" font-size="9.5" text-anchor="end">40</text>
<text transform="translate(40.4,274.88) scale(1.0,1.0)" font-size="9.5" text-anchor="end">60</text>
<text transform="translate(40.4,267.04) scale(1.0,1.0)" font-size="9.5" text-anchor="end">80</text>
<text transform="translate(40.4,259.2) scale(1.0,1.0)" font-size="9.5" text-anchor="end">100</text>
<text transform="translate(40.4,251.36) scale(1.0,1.0)" font-size="9.5" text-anchor="end">120</text>
<text transform="translate(40.4,243.52) scale(1.0,1.0)" font-size="9.5" text-anchor="end">140</text>
<text transform="translate(40.4,235.68) scale(1.0,1.0)" font-size="9.5" text-anchor="end">160</text>
<text transform="translate(40.4,227.84) scale(1.0,1.0)" font-size="9.5" text-anchor="end">180</text>
<text transform="translate(40.4,220) scale(1.0,1.0)" font-size="9.5" text-anchor="end">200</text>
<text transform="translate(40.4,212.16) scale(1.0,1.0)" font-size="9.5" text-anchor="end">220</text>
<text transform="translate(40.4,204.32) scale(1.0,1.0)" font-size="9.5" text-anchor="end">240</text>
<text transform="translate(40.4,196.48) scale(1.0,1.0)" font-size="9.5" text-anchor="end">260</text>
<text transform="translate(40.4,188.64) scale(1.0,1.0)" font-size="9.5" text-anchor="end">280</text>
<text transform="translate(40.4,180.8) scale(1.0,1.0)" font-size="9.5" text-anchor="end">300</text>
<text transform="translate(40.4,172.96) scale(1.0,1.0)" font-size="9.5" text-anchor="end">320</text>
<text transform="translate(63.57,309.4) scale(1,1.04)" font-size="9.5" text-anchor="middle">1</text>
<text transform="translate(99.71,309.4) scale(1,1.04)" font-size="9.5" text-anchor="middle">2</text>
<text transform="translate(135.84,309.4) scale(1,1.04)" font-size="9.5" text-anchor="middle">3</text>
<text transform="translate(171.98,309.4) scale(1,1.04)" font-size="9.5" text-anchor="middle">4</text>
<text transform="translate(208.12,309.4) scale(1,1.04)" font-size="9.5" text-anchor="middle">5</text>
<text transform="translate(244.26,309.4) scale(1,1.04)" font-size="9.5" text-anchor="middle">6</text>
<text transform="translate(280.39,309.4) scale(1,1.04)" font-size="9.5" text-anchor="middle">7</text>
<text transform="translate(316.53,309.4) scale(1,1.04)" font-size="9.5" text-anchor="middle">8</text>
<text transform="translate(9.6,239.6) rotate(-90) scale(1.0,1)" font-size="10" text-anchor="middle">ALP [U/L]</text>
<line x1="388.8" y1="289.5" x2="676" y2="289.5" stroke="#d2d2d2" stroke-width="1.0" stroke-dasharray="3.8,3.56" stroke-dashoffset="1.9"/>
<line x1="388.8" y1="271.14" x2="676" y2="271.14" stroke="#d2d2d2" stroke-width="1.0" stroke-dasharray="3.8,3.56" stroke-dashoffset="1.9"/>
<line x1="388.8" y1="252.78" x2="676" y2="252.78" stroke="#d2d2d2" stroke-width="1.0" stroke-dasharray="3.8,3.56" stroke-dashoffset="1.9"/>
<line x1="388.8" y1="234.42" x2="676" y2="234.42" stroke="#d2d2d2" stroke-width="1.0" stroke-dasharray="3.8,3.56" stroke-dashoffset="1.9"/>
<line x1="388.8" y1="216.06" x2="676" y2="216.06" stroke="#d2d2d2" stroke-width="1.0" stroke-dasharray="3.8,3.56" stroke-dashoffset="1.9"/>
<line x1="388.8" y1="197.7" x2="676" y2="197.7" stroke="#d2d2d2" stroke-width="1.0" stroke-dasharray="3.8,3.56" stroke-dashoffset="1.9"/>
<line x1="388.8" y1="179.34" x2="676" y2="179.34" stroke="#d2d2d2" stroke-width="1.0" stroke-dasharray="3.8,3.56" stroke-dashoffset="1.9"/>
<line x1="388.8" y1="280.32" x2="676" y2="280.32" stroke="#d2d2d2" stroke-width="1.0" stroke-dasharray="3.8,3.56" stroke-dashoffset="1.9"/>
<line x1="388.8" y1="261.96" x2="676" y2="261.96" stroke="#d2d2d2" stroke-width="1.0" stroke-dasharray="3.8,3.56" stroke-dashoffset="1.9"/>
<line x1="388.8" y1="243.6" x2="676" y2="243.6" stroke="#d2d2d2" stroke-width="1.0" stroke-dasharray="3.8,3.56" stroke-dashoffset="1.9"/>
<line x1="388.8" y1="225.24" x2="676" y2="225.24" stroke="#d2d2d2" stroke-width="1.0" stroke-dasharray="3.8,3.56" stroke-dashoffset="1.9"/>
<line x1="388.8" y1="206.88" x2="676" y2="206.88" stroke="#d2d2d2" stroke-width="1.0" stroke-dasharray="3.8,3.56" stroke-dashoffset="1.9"/>
<line x1="388.8" y1="188.52" x2="676" y2="188.52" stroke="#d2d2d2" stroke-width="1.0" stroke-dasharray="3.8,3.56" stroke-dashoffset="1.9"/>
<rect x="405.2" y="291" width="35" height="5.4" fill="#000"/>
<rect x="479.1" y="291" width="33.6" height="5.4" fill="#000"/>
<rect x="552.7" y="291" width="33" height="5.4" fill="#000"/>
<line x1="396.5" y1="271" x2="396.5" y2="289.3" stroke="#3a3ae0" stroke-width="1" />
<line x1="412.2" y1="266.8" x2="412.2" y2="289.3" stroke="#e02a2a" stroke-width="1" />
<line x1="433.3" y1="252.9" x2="433.3" y2="289.3" stroke="#3a3ae0" stroke-width="1" />
<line x1="447.9" y1="244" x2="447.9" y2="289.3" stroke="#e02a2a" stroke-width="1" />
<line x1="469.9" y1="261.6" x2="469.9" y2="281" stroke="#3a3ae0" stroke-width="1" />
<line x1="484.6" y1="235" x2="484.6" y2="261.6" stroke="#e02a2a" stroke-width="1" />
<line x1="506" y1="247.9" x2="506" y2="289.3" stroke="#3a3ae0" stroke-width="1" />
<line x1="520.5" y1="253.1" x2="520.5" y2="289.3" stroke="#e02a2a" stroke-width="1" />
<line x1="543.3" y1="220.8" x2="543.3" y2="289.3" stroke="#3a3ae0" stroke-width="1" />
<line x1="557.5" y1="253.1" x2="557.5" y2="289.3" stroke="#e02a2a" stroke-width="1" />
<line x1="579.4" y1="244.1" x2="579.4" y2="275.8" stroke="#3a3ae0" stroke-width="1" />
<line x1="594.1" y1="243.6" x2="594.1" y2="253.1" stroke="#e02a2a" stroke-width="1" />
<line x1="615.5" y1="244.1" x2="615.5" y2="289.3" stroke="#3a3ae0" stroke-width="1" />
<line x1="630.8" y1="206.9" x2="630.8" y2="257.7" stroke="#e02a2a" stroke-width="1" />
<line x1="652.2" y1="220.8" x2="652.2" y2="289.3" stroke="#3a3ae0" stroke-width="1" />
<line x1="667.2" y1="234.5" x2="667.2" y2="271.2" stroke="#e02a2a" stroke-width="1" />
<polyline points="396.5,275.7 433.3,277.3 469.9,271.4 506,270.6 543.3,268.1 579.4,257.2 615.5,267.5 652.2,281.5" fill="none" stroke="#2b2bd6" stroke-width="1.5" stroke-dasharray="5,3.8"/>
<polyline points="412.2,277.7 447.9,271.2 484.6,247.9 520.5,266.8 557.5,271.2 594.1,243.6 630.8,237.1 667.2,253.1" fill="none" stroke="#e03a3a" stroke-width="1.5" stroke-dasharray="5,3.8"/>
<circle cx="396.5" cy="275.7" r="3.3" fill="#0a14f0" stroke="none" stroke-width="0"/>
<path d="M412.2 273.3L416.6 277.7L412.2 282.1L407.8 277.7Z" fill="#f00a0a" stroke="none" stroke-width="0"/>
<circle cx="433.3" cy="277.3" r="3.3" fill="#0a14f0" stroke="none" stroke-width="0"/>
<path d="M447.9 266.8L452.3 271.2L447.9 275.6L443.5 271.2Z" fill="#f00a0a" stroke="none" stroke-width="0"/>
<circle cx="469.9" cy="271.4" r="3.3" fill="#0a14f0" stroke="none" stroke-width="0"/>
<path d="M484.6 243.5L489 247.9L484.6 252.3L480.2 247.9Z" fill="#f00a0a" stroke="none" stroke-width="0"/>
<circle cx="506" cy="270.6" r="3.3" fill="#0a14f0" stroke="none" stroke-width="0"/>
<path d="M520.5 262.4L524.9 266.8L520.5 271.2L516.1 266.8Z" fill="#f00a0a" stroke="none" stroke-width="0"/>
<circle cx="543.3" cy="268.1" r="3.3" fill="#0a14f0" stroke="none" stroke-width="0"/>
<path d="M557.5 266.8L561.9 271.2L557.5 275.6L553.1 271.2Z" fill="#f00a0a" stroke="none" stroke-width="0"/>
<circle cx="579.4" cy="257.2" r="3.3" fill="#0a14f0" stroke="none" stroke-width="0"/>
<path d="M594.1 239.2L598.5 243.6L594.1 248L589.7 243.6Z" fill="#f00a0a" stroke="none" stroke-width="0"/>
<circle cx="615.5" cy="267.5" r="3.3" fill="#0a14f0" stroke="none" stroke-width="0"/>
<path d="M630.8 232.7L635.2 237.1L630.8 241.5L626.4 237.1Z" fill="#f00a0a" stroke="none" stroke-width="0"/>
<circle cx="652.2" cy="281.5" r="3.3" fill="#0a14f0" stroke="none" stroke-width="0"/>
<path d="M667.2 248.7L671.6 253.1L667.2 257.5L662.8 253.1Z" fill="#f00a0a" stroke="none" stroke-width="0"/>
<circle cx="396.5" cy="248.2" r="1.8" fill="none" stroke="#1e88e5" stroke-width="1.2"/>
<circle cx="396.5" cy="262.2" r="1.8" fill="none" stroke="#1e88e5" stroke-width="1.2"/>
<circle cx="396.5" cy="271" r="1.8" fill="none" stroke="#1e88e5" stroke-width="1.2"/>
<circle cx="396.5" cy="289.3" r="1.8" fill="none" stroke="#1e88e5" stroke-width="1.2"/>
<circle cx="398" cy="289.3" r="1.8" fill="none" stroke="#1e88e5" stroke-width="1.2"/>
<path d="M412.2 250.9L414.1 252.8L412.2 254.7L410.3 252.8Z" fill="none" stroke="#b81c1c" stroke-width="1.15"/>
<path d="M412.2 260.3L414.1 262.2L412.2 264.1L410.3 262.2Z" fill="none" stroke="#b81c1c" stroke-width="1.15"/>
<path d="M412.2 264.9L414.1 266.8L412.2 268.7L410.3 266.8Z" fill="none" stroke="#b81c1c" stroke-width="1.15"/>
<path d="M412.2 283.1L414.1 285L412.2 286.9L410.3 285Z" fill="none" stroke="#b81c1c" stroke-width="1.15"/>
<path d="M412.2 287.4L414.1 289.3L412.2 291.2L410.3 289.3Z" fill="none" stroke="#b81c1c" stroke-width="1.15"/>
<circle cx="433.3" cy="211.8" r="1.8" fill="none" stroke="#1e88e5" stroke-width="1.2"/>
<circle cx="433.3" cy="243.9" r="1.8" fill="none" stroke="#1e88e5" stroke-width="1.2"/>
<circle cx="433.3" cy="252.9" r="1.8" fill="none" stroke="#1e88e5" stroke-width="1.2"/>
<circle cx="433.3" cy="262.2" r="1.8" fill="none" stroke="#1e88e5" stroke-width="1.2"/>
<circle cx="435.5" cy="266.8" r="1.8" fill="none" stroke="#1e88e5" stroke-width="1.2"/>
<circle cx="433.3" cy="289.3" r="1.8" fill="none" stroke="#1e88e5" stroke-width="1.2"/>
<circle cx="435.5" cy="289.3" r="1.8" fill="none" stroke="#1e88e5" stroke-width="1.2"/>
<path d="M447.9 186.7L449.8 188.6L447.9 190.5L446 188.6Z" fill="none" stroke="#b81c1c" stroke-width="1.15"/>
<path d="M447.9 237L449.8 238.9L447.9 240.8L446 238.9Z" fill="none" stroke="#b81c1c" stroke-width="1.15"/>
<path d="M447.9 242.1L449.8 244L447.9 245.9L446 244Z" fill="none" stroke="#b81c1c" stroke-width="1.15"/>
<path d="M447.9 260.3L449.8 262.2L447.9 264.1L446 262.2Z" fill="none" stroke="#b81c1c" stroke-width="1.15"/>
<path d="M447.9 273.9L449.8 275.8L447.9 277.7L446 275.8Z" fill="none" stroke="#b81c1c" stroke-width="1.15"/>
<path d="M447.9 278.7L449.8 280.6L447.9 282.5L446 280.6Z" fill="none" stroke="#b81c1c" stroke-width="1.15"/>
<path d="M447.9 287.4L449.8 289.3L447.9 291.2L446 289.3Z" fill="none" stroke="#b81c1c" stroke-width="1.15"/>
<circle cx="469.9" cy="225.5" r="1.8" fill="none" stroke="#1e88e5" stroke-width="1.2"/>
<circle cx="469.9" cy="253.1" r="1.8" fill="none" stroke="#1e88e5" stroke-width="1.2"/>
<circle cx="469.9" cy="261.6" r="1.8" fill="none" stroke="#1e88e5" stroke-width="1.2"/>
<circle cx="469.9" cy="268.1" r="1.8" fill="none" stroke="#1e88e5" stroke-width="1.2"/>
<circle cx="469.9" cy="275.8" r="1.8" fill="none" stroke="#1e88e5" stroke-width="1.2"/>
<circle cx="469.9" cy="281" r="1.8" fill="none" stroke="#1e88e5" stroke-width="1.2"/>
<circle cx="469.9" cy="289.3" r="1.8" fill="none" stroke="#1e88e5" stroke-width="1.2"/>
<circle cx="472" cy="289.3" r="1.8" fill="none" stroke="#1e88e5" stroke-width="1.2"/>
<path d="M484.6 172.7L486.5 174.6L484.6 176.5L482.7 174.6Z" fill="none" stroke="#b81c1c" stroke-width="1.15"/>
<path d="M484.6 223.6L486.5 225.5L484.6 227.4L482.7 225.5Z" fill="none" stroke="#b81c1c" stroke-width="1.15"/>
<path d="M484.6 233.1L486.5 235L484.6 236.9L482.7 235Z" fill="none" stroke="#b81c1c" stroke-width="1.15"/>
<path d="M484.6 237.3L486.5 239.2L484.6 241.1L482.7 239.2Z" fill="none" stroke="#b81c1c" stroke-width="1.15"/>
<path d="M484.6 241.6L486.5 243.5L484.6 245.4L482.7 243.5Z" fill="none" stroke="#b81c1c" stroke-width="1.15"/>
<path d="M484.6 251.2L486.5 253.1L484.6 255L482.7 253.1Z" fill="none" stroke="#b81c1c" stroke-width="1.15"/>
<path d="M484.6 259.7L486.5 261.6L484.6 263.5L482.7 261.6Z" fill="none" stroke="#b81c1c" stroke-width="1.15"/>
<path d="M484.6 278.6L486.5 280.5L484.6 282.4L482.7 280.5Z" fill="none" stroke="#b81c1c" stroke-width="1.15"/>
<circle cx="506" cy="220.8" r="1.8" fill="none" stroke="#1e88e5" stroke-width="1.2"/>
<circle cx="508" cy="225.5" r="1.8" fill="none" stroke="#1e88e5" stroke-width="1.2"/>
<circle cx="506" cy="247.9" r="1.8" fill="none" stroke="#1e88e5" stroke-width="1.2"/>
<circle cx="506" cy="261.6" r="1.8" fill="none" stroke="#1e88e5" stroke-width="1.2"/>
<circle cx="506" cy="280.5" r="1.8" fill="none" stroke="#1e88e5" stroke-width="1.2"/>
<circle cx="506" cy="284.8" r="1.8" fill="none" stroke="#1e88e5" stroke-width="1.2"/>
<circle cx="506" cy="289.3" r="1.8" fill="none" stroke="#1e88e5" stroke-width="1.2"/>
<circle cx="508" cy="289.3" r="1.8" fill="none" stroke="#1e88e5" stroke-width="1.2"/>
<path d="M520.5 228.2L522.4 230.1L520.5 232L518.6 230.1Z" fill="none" stroke="#b81c1c" stroke-width="1.15"/>
<path d="M520.5 246L522.4 247.9L520.5 249.8L518.6 247.9Z" fill="none" stroke="#b81c1c" stroke-width="1.15"/>
<path d="M520.5 251.2L522.4 253.1L520.5 255L518.6 253.1Z" fill="none" stroke="#b81c1c" stroke-width="1.15"/>
<path d="M520.5 255.8L522.4 257.7L520.5 259.6L518.6 257.7Z" fill="none" stroke="#b81c1c" stroke-width="1.15"/>
<path d="M520.5 273.9L522.4 275.8L520.5 277.7L518.6 275.8Z" fill="none" stroke="#b81c1c" stroke-width="1.15"/>
<path d="M520.5 282.9L522.4 284.8L520.5 286.7L518.6 284.8Z" fill="none" stroke="#b81c1c" stroke-width="1.15"/>
<path d="M520.5 287.4L522.4 289.3L520.5 291.2L518.6 289.3Z" fill="none" stroke="#b81c1c" stroke-width="1.15"/>
<path d="M522 287.4L523.9 289.3L522 291.2L520.1 289.3Z" fill="none" stroke="#b81c1c" stroke-width="1.15"/>
<circle cx="543.3" cy="220.8" r="1.8" fill="none" stroke="#1e88e5" stroke-width="1.2"/>
<circle cx="543.3" cy="225.5" r="1.8" fill="none" stroke="#1e88e5" stroke-width="1.2"/>
<circle cx="543.3" cy="253.1" r="1.8" fill="none" stroke="#1e88e5" stroke-width="1.2"/>
<circle cx="543.3" cy="261.6" r="1.8" fill="none" stroke="#1e88e5" stroke-width="1.2"/>
<circle cx="543.3" cy="271.9" r="1.8" fill="none" stroke="#1e88e5" stroke-width="1.2"/>
<circle cx="543.3" cy="280.5" r="1.8" fill="none" stroke="#1e88e5" stroke-width="1.2"/>
<circle cx="543.3" cy="289.3" r="1.8" fill="none" stroke="#1e88e5" stroke-width="1.2"/>
<circle cx="545" cy="289.3" r="1.8" fill="none" stroke="#1e88e5" stroke-width="1.2"/>
<path d="M557.5 228.2L559.4 230.1L557.5 232L555.6 230.1Z" fill="none" stroke="#b81c1c" stroke-width="1.15"/>
<path d="M557.5 237.3L559.4 239.2L557.5 241.1L555.6 239.2Z" fill="none" stroke="#b81c1c" stroke-width="1.15"/>
<path d="M557.5 251.2L559.4 253.1L557.5 255L555.6 253.1Z" fill="none" stroke="#b81c1c" stroke-width="1.15"/>
<path d="M557.5 259.7L559.4 261.6L557.5 263.5L555.6 261.6Z" fill="none" stroke="#b81c1c" stroke-width="1.15"/>
<path d="M557.5 278.6L559.4 280.5L557.5 282.4L555.6 280.5Z" fill="none" stroke="#b81c1c" stroke-width="1.15"/>
<path d="M557.5 287.4L559.4 289.3L557.5 291.2L555.6 289.3Z" fill="none" stroke="#b81c1c" stroke-width="1.15"/>
<circle cx="579.4" cy="244.1" r="1.8" fill="none" stroke="#1e88e5" stroke-width="1.2"/>
<circle cx="581" cy="244.1" r="1.8" fill="none" stroke="#1e88e5" stroke-width="1.2"/>
<circle cx="579.4" cy="271.9" r="1.8" fill="none" stroke="#1e88e5" stroke-width="1.2"/>
<circle cx="579.4" cy="275.8" r="1.8" fill="none" stroke="#1e88e5" stroke-width="1.2"/>
<circle cx="581" cy="275.8" r="1.8" fill="none" stroke="#1e88e5" stroke-width="1.2"/>
<circle cx="579.4" cy="284.8" r="1.8" fill="none" stroke="#1e88e5" stroke-width="1.2"/>
<path d="M594.1 223.7L596 225.6L594.1 227.5L592.2 225.6Z" fill="none" stroke="#b81c1c" stroke-width="1.15"/>
<path d="M594.1 251.2L596 253.1L594.1 255L592.2 253.1Z" fill="none" stroke="#b81c1c" stroke-width="1.15"/>
<path d="M592.7 260.2L594.6 262.1L592.7 264L590.8 262.1Z" fill="none" stroke="#b81c1c" stroke-width="1.15"/>
<path d="M592.7 269.4L594.6 271.3L592.7 273.2L590.8 271.3Z" fill="none" stroke="#b81c1c" stroke-width="1.15"/>
<circle cx="615.5" cy="206.9" r="1.8" fill="none" stroke="#1e88e5" stroke-width="1.2"/>
<circle cx="615.5" cy="244.1" r="1.8" fill="none" stroke="#1e88e5" stroke-width="1.2"/>
<circle cx="617.5" cy="244.1" r="1.8" fill="none" stroke="#1e88e5" stroke-width="1.2"/>
<circle cx="615.5" cy="271.2" r="1.8" fill="none" stroke="#1e88e5" stroke-width="1.2"/>
<circle cx="615.5" cy="280.5" r="1.8" fill="none" stroke="#1e88e5" stroke-width="1.2"/>
<circle cx="615.5" cy="289.3" r="1.8" fill="none" stroke="#1e88e5" stroke-width="1.2"/>
<circle cx="617.5" cy="289.3" r="1.8" fill="none" stroke="#1e88e5" stroke-width="1.2"/>
<path d="M630.8 186.7L632.7 188.6L630.8 190.5L628.9 188.6Z" fill="none" stroke="#b81c1c" stroke-width="1.15"/>
<path d="M630.8 191.3L632.7 193.2L630.8 195.1L628.9 193.2Z" fill="none" stroke="#b81c1c" stroke-width="1.15"/>
<path d="M630.8 205L632.7 206.9L630.8 208.8L628.9 206.9Z" fill="none" stroke="#b81c1c" stroke-width="1.15"/>
<path d="M630.8 218.9L632.7 220.8L630.8 222.7L628.9 220.8Z" fill="none" stroke="#b81c1c" stroke-width="1.15"/>
<path d="M630.8 251.2L632.7 253.1L630.8 255L628.9 253.1Z" fill="none" stroke="#b81c1c" stroke-width="1.15"/>
<path d="M630.8 255.8L632.7 257.7L630.8 259.6L628.9 257.7Z" fill="none" stroke="#b81c1c" stroke-width="1.15"/>
<path d="M630.8 287.4L632.7 289.3L630.8 291.2L628.9 289.3Z" fill="none" stroke="#b81c1c" stroke-width="1.15"/>
<circle cx="652.2" cy="184.2" r="1.8" fill="none" stroke="#1e88e5" stroke-width="1.2"/>
<circle cx="652.2" cy="216.5" r="1.8" fill="none" stroke="#1e88e5" stroke-width="1.2"/>
<circle cx="652.2" cy="220.8" r="1.8" fill="none" stroke="#1e88e5" stroke-width="1.2"/>
<circle cx="652.2" cy="257.7" r="1.8" fill="none" stroke="#1e88e5" stroke-width="1.2"/>
<circle cx="652.2" cy="275.8" r="1.8" fill="none" stroke="#1e88e5" stroke-width="1.2"/>
<circle cx="652.2" cy="289.3" r="1.8" fill="none" stroke="#1e88e5" stroke-width="1.2"/>
<circle cx="654" cy="289.3" r="1.8" fill="none" stroke="#1e88e5" stroke-width="1.2"/>
<path d="M667.2 228.2L669.1 230.1L667.2 232L665.3 230.1Z" fill="none" stroke="#b81c1c" stroke-width="1.15"/>
<path d="M667.2 232.6L669.1 234.5L667.2 236.4L665.3 234.5Z" fill="none" stroke="#b81c1c" stroke-width="1.15"/>
<path d="M667.2 242.2L669.1 244.1L667.2 246L665.3 244.1Z" fill="none" stroke="#b81c1c" stroke-width="1.15"/>
<path d="M667.2 245.5L669.1 247.4L667.2 249.3L665.3 247.4Z" fill="none" stroke="#b81c1c" stroke-width="1.15"/>
<path d="M667.2 255.8L669.1 257.7L667.2 259.6L665.3 257.7Z" fill="none" stroke="#b81c1c" stroke-width="1.15"/>
<path d="M667.2 264.9L669.1 266.8L667.2 268.7L665.3 266.8Z" fill="none" stroke="#b81c1c" stroke-width="1.15"/>
<path d="M667.2 269.3L669.1 271.2L667.2 273.1L665.3 271.2Z" fill="none" stroke="#b81c1c" stroke-width="1.15"/>
<path d="M667.2 287.4L669.1 289.3L667.2 291.2L665.3 289.3Z" fill="none" stroke="#b81c1c" stroke-width="1.15"/>
<line x1="386.8" y1="170.9" x2="386.8" y2="296.4" stroke="#3c3c3c" stroke-width="1.25" />
<line x1="678" y1="170.9" x2="678" y2="296.4" stroke="#3c3c3c" stroke-width="1.25" />
<line x1="386.2" y1="170.9" x2="678.6" y2="170.9" stroke="#3c3c3c" stroke-width="1.3" />
<line x1="386.2" y1="296.4" x2="678.6" y2="296.4" stroke="#3c3c3c" stroke-width="1.4" />
<line x1="386.8" y1="289.5" x2="389" y2="289.5" stroke="#3c3c3c" stroke-width="1" />
<line x1="678" y1="289.5" x2="675.8" y2="289.5" stroke="#3c3c3c" stroke-width="1" />
<line x1="386.8" y1="271.14" x2="389" y2="271.14" stroke="#3c3c3c" stroke-width="1" />
<line x1="678" y1="271.14" x2="675.8" y2="271.14" stroke="#3c3c3c" stroke-width="1" />
<line x1="386.8" y1="252.78" x2="389" y2="252.78" stroke="#3c3c3c" stroke-width="1" />
<line x1="678" y1="252.78" x2="675.8" y2="252.78" stroke="#3c3c3c" stroke-width="1" />
<line x1="386.8" y1="234.42" x2="389" y2="234.42" stroke="#3c3c3c" stroke-width="1" />
<line x1="678" y1="234.42" x2="675.8" y2="234.42" stroke="#3c3c3c" stroke-width="1" />
<line x1="386.8" y1="216.06" x2="389" y2="216.06" stroke="#3c3c3c" stroke-width="1" />
<line x1="678" y1="216.06" x2="675.8" y2="216.06" stroke="#3c3c3c" stroke-width="1" />
<line x1="386.8" y1="197.7" x2="389" y2="197.7" stroke="#3c3c3c" stroke-width="1" />
<line x1="678" y1="197.7" x2="675.8" y2="197.7" stroke="#3c3c3c" stroke-width="1" />
<line x1="386.8" y1="179.34" x2="389" y2="179.34" stroke="#3c3c3c" stroke-width="1" />
<line x1="678" y1="179.34" x2="675.8" y2="179.34" stroke="#3c3c3c" stroke-width="1" />
<line x1="386.8" y1="280.32" x2="389" y2="280.32" stroke="#3c3c3c" stroke-width="1" />
<line x1="678" y1="280.32" x2="675.8" y2="280.32" stroke="#3c3c3c" stroke-width="1" />
<line x1="386.8" y1="261.96" x2="389" y2="261.96" stroke="#3c3c3c" stroke-width="1" />
<line x1="678" y1="261.96" x2="675.8" y2="261.96" stroke="#3c3c3c" stroke-width="1" />
<line x1="386.8" y1="243.6" x2="389" y2="243.6" stroke="#3c3c3c" stroke-width="1" />
<line x1="678" y1="243.6" x2="675.8" y2="243.6" stroke="#3c3c3c" stroke-width="1" />
<line x1="386.8" y1="225.24" x2="389" y2="225.24" stroke="#3c3c3c" stroke-width="1" />
<line x1="678" y1="225.24" x2="675.8" y2="225.24" stroke="#3c3c3c" stroke-width="1" />
<line x1="386.8" y1="206.88" x2="389" y2="206.88" stroke="#3c3c3c" stroke-width="1" />
<line x1="678" y1="206.88" x2="675.8" y2="206.88" stroke="#3c3c3c" stroke-width="1" />
<line x1="386.8" y1="188.52" x2="389" y2="188.52" stroke="#3c3c3c" stroke-width="1" />
<line x1="678" y1="188.52" x2="675.8" y2="188.52" stroke="#3c3c3c" stroke-width="1" />
<line x1="405" y1="170.9" x2="405" y2="173.1" stroke="#3c3c3c" stroke-width="1" />
<line x1="405" y1="296.4" x2="405" y2="294.2" stroke="#3c3c3c" stroke-width="1" />
<line x1="441.4" y1="170.9" x2="441.4" y2="173.1" stroke="#3c3c3c" stroke-width="1" />
<line x1="441.4" y1="296.4" x2="441.4" y2="294.2" stroke="#3c3c3c" stroke-width="1" />
<line x1="477.8" y1="170.9" x2="477.8" y2="173.1" stroke="#3c3c3c" stroke-width="1" />
<line x1="477.8" y1="296.4" x2="477.8" y2="294.2" stroke="#3c3c3c" stroke-width="1" />
<line x1="514.2" y1="170.9" x2="514.2" y2="173.1" stroke="#3c3c3c" stroke-width="1" />
<line x1="514.2" y1="296.4" x2="514.2" y2="294.2" stroke="#3c3c3c" stroke-width="1" />
<line x1="550.6" y1="170.9" x2="550.6" y2="173.1" stroke="#3c3c3c" stroke-width="1" />
<line x1="550.6" y1="296.4" x2="550.6" y2="294.2" stroke="#3c3c3c" stroke-width="1" />
<line x1="587" y1="170.9" x2="587" y2="173.1" stroke="#3c3c3c" stroke-width="1" />
<line x1="587" y1="296.4" x2="587" y2="294.2" stroke="#3c3c3c" stroke-width="1" />
<line x1="623.4" y1="170.9" x2="623.4" y2="173.1" stroke="#3c3c3c" stroke-width="1" />
<line x1="623.4" y1="296.4" x2="623.4" y2="294.2" stroke="#3c3c3c" stroke-width="1" />
<line x1="659.8" y1="170.9" x2="659.8" y2="173.1" stroke="#3c3c3c" stroke-width="1" />
<line x1="659.8" y1="296.4" x2="659.8" y2="294.2" stroke="#3c3c3c" stroke-width="1" />
<text transform="translate(381.2,291.7) scale(1.0,1.0)" font-size="9.5" text-anchor="end">0,0</text>
<text transform="translate(381.2,273.34) scale(1.0,1.0)" font-size="9.5" text-anchor="end">0,4</text>
<text transform="translate(381.2,254.98) scale(1.0,1.0)" font-size="9.5" text-anchor="end">0,8</text>
<text transform="translate(381.2,236.62) scale(1.0,1.0)" font-size="9.5" text-anchor="end">1,2</text>
<text transform="translate(381.2,218.26) scale(1.0,1.0)" font-size="9.5" text-anchor="end">1,6</text>
<text transform="translate(381.2,199.9) scale(1.0,1.0)" font-size="9.5" text-anchor="end">2,0</text>
<text transform="translate(381.2,181.54) scale(1.0,1.0)" font-size="9.5" text-anchor="end">2,4</text>
<text transform="translate(405,309.6) scale(1,1.04)" font-size="9.5" text-anchor="middle">1</text>
<text transform="translate(441.4,309.6) scale(1,1.04)" font-size="9.5" text-anchor="middle">2</text>
<text transform="translate(477.8,309.6) scale(1,1.04)" font-size="9.5" text-anchor="middle">3</text>
<text transform="translate(514.2,309.6) scale(1,1.04)" font-size="9.5" text-anchor="middle">4</text>
<text transform="translate(550.6,309.6) scale(1,1.04)" font-size="9.5" text-anchor="middle">5</text>
<text transform="translate(587,309.6) scale(1,1.04)" font-size="9.5" text-anchor="middle">6</text>
<text transform="translate(623.4,309.6) scale(1,1.04)" font-size="9.5" text-anchor="middle">7</text>
<text transform="translate(659.8,309.6) scale(1,1.04)" font-size="9.5" text-anchor="middle">8</text>
<text transform="translate(353,239.55) rotate(-90) scale(1.0,1)" font-size="10" text-anchor="middle">GGT [U/L]</text>
<line x1="47.6" y1="451.7" x2="332.6" y2="451.7" stroke="#d2d2d2" stroke-width="1.0" stroke-dasharray="3.8,3.56" stroke-dashoffset="1.9"/>
<line x1="47.6" y1="442.5" x2="332.6" y2="442.5" stroke="#d2d2d2" stroke-width="1.0" stroke-dasharray="3.8,3.56" stroke-dashoffset="1.9"/>
<line x1="47.6" y1="433.3" x2="332.6" y2="433.3" stroke="#d2d2d2" stroke-width="1.0" stroke-dasharray="3.8,3.56" stroke-dashoffset="1.9"/>
<line x1="47.6" y1="424.1" x2="332.6" y2="424.1" stroke="#d2d2d2" stroke-width="1.0" stroke-dasharray="3.8,3.56" stroke-dashoffset="1.9"/>
<line x1="47.6" y1="414.9" x2="332.6" y2="414.9" stroke="#d2d2d2" stroke-width="1.0" stroke-dasharray="3.8,3.56" stroke-dashoffset="1.9"/>
<line x1="47.6" y1="405.7" x2="332.6" y2="405.7" stroke="#d2d2d2" stroke-width="1.0" stroke-dasharray="3.8,3.56" stroke-dashoffset="1.9"/>
<line x1="47.6" y1="396.5" x2="332.6" y2="396.5" stroke="#d2d2d2" stroke-width="1.0" stroke-dasharray="3.8,3.56" stroke-dashoffset="1.9"/>
<line x1="47.6" y1="387.3" x2="332.6" y2="387.3" stroke="#d2d2d2" stroke-width="1.0" stroke-dasharray="3.8,3.56" stroke-dashoffset="1.9"/>
<line x1="47.6" y1="378.1" x2="332.6" y2="378.1" stroke="#d2d2d2" stroke-width="1.0" stroke-dasharray="3.8,3.56" stroke-dashoffset="1.9"/>
<line x1="47.6" y1="368.9" x2="332.6" y2="368.9" stroke="#d2d2d2" stroke-width="1.0" stroke-dasharray="3.8,3.56" stroke-dashoffset="1.9"/>
<line x1="47.6" y1="359.7" x2="332.6" y2="359.7" stroke="#d2d2d2" stroke-width="1.0" stroke-dasharray="3.8,3.56" stroke-dashoffset="1.9"/>
<line x1="47.6" y1="352.2" x2="332.6" y2="352.2" stroke="#d2d2d2" stroke-width="1.0" stroke-dasharray="3.8,3.56" stroke-dashoffset="1.9"/>
<line x1="47.6" y1="343.2" x2="332.6" y2="343.2" stroke="#d2d2d2" stroke-width="1.0" stroke-dasharray="3.8,3.56" stroke-dashoffset="1.9"/>
<rect x="62.9" y="455.9" width="35" height="5" fill="#000"/>
<rect x="136.4" y="455.9" width="35.1" height="5" fill="#000"/>
<rect x="208.7" y="455.9" width="35.3" height="5" fill="#000"/>
<line x1="55.8" y1="419.7" x2="55.8" y2="429.5" stroke="#3a3ae0" stroke-width="1" />
<line x1="70.6" y1="419" x2="70.6" y2="442" stroke="#e02a2a" stroke-width="1" />
<line x1="92.7" y1="423" x2="92.7" y2="430" stroke="#3a3ae0" stroke-width="1" />
<line x1="106.4" y1="417" x2="106.4" y2="437" stroke="#e02a2a" stroke-width="1" />
<line x1="127.9" y1="400" x2="127.9" y2="421.5" stroke="#3a3ae0" stroke-width="1" />
<line x1="143.4" y1="422" x2="143.4" y2="437" stroke="#e02a2a" stroke-width="1" />
<line x1="164.5" y1="411.9" x2="164.5" y2="427.4" stroke="#3a3ae0" stroke-width="1" />
<line x1="179.5" y1="405" x2="179.5" y2="427" stroke="#e02a2a" stroke-width="1" />
<line x1="200.5" y1="410" x2="200.5" y2="425" stroke="#3a3ae0" stroke-width="1" />
<line x1="214.9" y1="410" x2="214.9" y2="425" stroke="#e02a2a" stroke-width="1" />
<line x1="236.6" y1="410" x2="236.6" y2="423" stroke="#3a3ae0" stroke-width="1" />
<line x1="251.6" y1="411" x2="251.6" y2="427" stroke="#e02a2a" stroke-width="1" />
<line x1="272.5" y1="411" x2="272.5" y2="424" stroke="#3a3ae0" stroke-width="1" />
<line x1="287.3" y1="404" x2="287.3" y2="426" stroke="#e02a2a" stroke-width="1" />
<line x1="308.4" y1="416" x2="308.4" y2="430" stroke="#3a3ae0" stroke-width="1" />
<line x1="324.2" y1="414" x2="324.2" y2="432" stroke="#e02a2a" stroke-width="1" />
<polyline points="55.8,429.5 92.7,424.8 127.9,417.6 164.5,417.1 200.5,418.9 236.6,417.1 272.5,419.6 308.4,425.8" fill="none" stroke="#2b2bd6" stroke-width="1.5" stroke-dasharray="5,3.8"/>
<polyline points="70.6,429.3 106.4,427.9 143.4,424.8 179.5,418.9 214.9,417.1 251.6,422.2 287.3,417.6 324.2,422.7" fill="none" stroke="#e03a3a" stroke-width="1.5" stroke-dasharray="5,3.8"/>
<circle cx="55.8" cy="429.5" r="3.5" fill="#1f5fe6" stroke="none" stroke-width="0"/>
<path d="M70.6 424.7L75.2 429.3L70.6 433.9L66 429.3Z" fill="#f00a0a" stroke="none" stroke-width="0"/>
<circle cx="92.7" cy="424.8" r="3.5" fill="#1f5fe6" stroke="none" stroke-width="0"/>
<path d="M106.4 423.3L111 427.9L106.4 432.5L101.8 427.9Z" fill="#f00a0a" stroke="none" stroke-width="0"/>
<circle cx="127.9" cy="417.6" r="3.5" fill="#1f5fe6" stroke="none" stroke-width="0"/>
<path d="M143.4 420.2L148 424.8L143.4 429.4L138.8 424.8Z" fill="#f00a0a" stroke="none" stroke-width="0"/>
<circle cx="164.5" cy="417.1" r="3.5" fill="#1f5fe6" stroke="none" stroke-width="0"/>
<path d="M179.5 414.3L184.1 418.9L179.5 423.5L174.9 418.9Z" fill="#f00a0a" stroke="none" stroke-width="0"/>
<circle cx="200.5" cy="418.9" r="3.5" fill="#1f5fe6" stroke="none" stroke-width="0"/>
<path d="M214.9 412.5L219.5 417.1L214.9 421.7L210.3 417.1Z" fill="#f00a0a" stroke="none" stroke-width="0"/>
<circle cx="236.6" cy="417.1" r="3.5" fill="#1f5fe6" stroke="none" stroke-width="0"/>
<path d="M251.6 417.6L256.2 422.2L251.6 426.8L247 422.2Z" fill="#f00a0a" stroke="none" stroke-width="0"/>
<circle cx="272.5" cy="419.6" r="3.5" fill="#1f5fe6" stroke="none" stroke-width="0"/>
<path d="M287.3 413L291.9 417.6L287.3 422.2L282.7 417.6Z" fill="#f00a0a" stroke="none" stroke-width="0"/>
<circle cx="308.4" cy="425.8" r="3.5" fill="#1f5fe6" stroke="none" stroke-width="0"/>
<path d="M324.2 418.1L328.8 422.7L324.2 427.3L319.6 422.7Z" fill="#f00a0a" stroke="none" stroke-width="0"/>
<circle cx="55.8" cy="407.9" r="2.15" fill="none" stroke="#1e88e5" stroke-width="1.3"/>
<circle cx="55.8" cy="416.3" r="2.15" fill="none" stroke="#1e88e5" stroke-width="1.3"/>
<circle cx="57.4" cy="417.8" r="2.15" fill="none" stroke="#1e88e5" stroke-width="1.3"/>
<circle cx="55.8" cy="431" r="2.15" fill="none" stroke="#1e88e5" stroke-width="1.3"/>
<circle cx="55.8" cy="433.1" r="2.15" fill="none" stroke="#1e88e5" stroke-width="1.3"/>
<circle cx="55.8" cy="443.8" r="2.15" fill="none" stroke="#1e88e5" stroke-width="1.3"/>
<circle cx="55.8" cy="453.8" r="2.15" fill="none" stroke="#1e88e5" stroke-width="1.3"/>
<path d="M70.6 341.5L73.1 344L70.6 346.5L68.1 344Z" fill="none" stroke="#b81c1c" stroke-width="1.3"/>
<path d="M70.6 367.3L73.1 369.8L70.6 372.3L68.1 369.8Z" fill="none" stroke="#b81c1c" stroke-width="1.3"/>
<path d="M70.6 414.1L73.1 416.6L70.6 419.1L68.1 416.6Z" fill="none" stroke="#b81c1c" stroke-width="1.3"/>
<path d="M70.6 416.9L73.1 419.4L70.6 421.9L68.1 419.4Z" fill="none" stroke="#b81c1c" stroke-width="1.3"/>
<path d="M70.6 422L73.1 424.5L70.6 427L68.1 424.5Z" fill="none" stroke="#b81c1c" stroke-width="1.3"/>
<path d="M70.6 430.6L73.1 433.1L70.6 435.6L68.1 433.1Z" fill="none" stroke="#b81c1c" stroke-width="1.3"/>
<path d="M70.6 439.9L73.1 442.4L70.6 444.9L68.1 442.4Z" fill="none" stroke="#b81c1c" stroke-width="1.3"/>
<path d="M70.6 443.7L73.1 446.2L70.6 448.7L68.1 446.2Z" fill="none" stroke="#b81c1c" stroke-width="1.3"/>
<path d="M70.6 446.5L73.1 449L70.6 451.5L68.1 449Z" fill="none" stroke="#b81c1c" stroke-width="1.3"/>
<circle cx="92.7" cy="396.9" r="2.15" fill="none" stroke="#1e88e5" stroke-width="1.3"/>
<circle cx="92.7" cy="406" r="2.15" fill="none" stroke="#1e88e5" stroke-width="1.3"/>
<circle cx="92.7" cy="423.3" r="2.15" fill="none" stroke="#1e88e5" stroke-width="1.3"/>
<circle cx="92.7" cy="429.2" r="2.15" fill="none" stroke="#1e88e5" stroke-width="1.3"/>
<circle cx="92.7" cy="433.1" r="2.15" fill="none" stroke="#1e88e5" stroke-width="1.3"/>
<circle cx="92.7" cy="436.2" r="2.15" fill="none" stroke="#1e88e5" stroke-width="1.3"/>
<circle cx="92.7" cy="442.9" r="2.15" fill="none" stroke="#1e88e5" stroke-width="1.3"/>
<path d="M106.4 365.5L108.9 368L106.4 370.5L103.9 368Z" fill="none" stroke="#b81c1c" stroke-width="1.3"/>
<path d="M106.4 414.6L108.9 417.1L106.4 419.6L103.9 417.1Z" fill="none" stroke="#b81c1c" stroke-width="1.3"/>
<path d="M106.4 428.5L108.9 431L106.4 433.5L103.9 431Z" fill="none" stroke="#b81c1c" stroke-width="1.3"/>
<path d="M106.4 434.4L108.9 436.9L106.4 439.4L103.9 436.9Z" fill="none" stroke="#b81c1c" stroke-width="1.3"/>
<path d="M106.4 440.9L108.9 443.4L106.4 445.9L103.9 443.4Z" fill="none" stroke="#b81c1c" stroke-width="1.3"/>
<path d="M106.4 448.1L108.9 450.6L106.4 453.1L103.9 450.6Z" fill="none" stroke="#b81c1c" stroke-width="1.3"/>
<circle cx="127.9" cy="393.1" r="2.15" fill="none" stroke="#1e88e5" stroke-width="1.3"/>
<circle cx="129" cy="394" r="2.15" fill="none" stroke="#1e88e5" stroke-width="1.3"/>
<circle cx="127.9" cy="400" r="2.15" fill="none" stroke="#1e88e5" stroke-width="1.3"/>
<circle cx="127.9" cy="415" r="2.15" fill="none" stroke="#1e88e5" stroke-width="1.3"/>
<circle cx="127.9" cy="421.5" r="2.15" fill="none" stroke="#1e88e5" stroke-width="1.3"/>
<circle cx="127.9" cy="424" r="2.15" fill="none" stroke="#1e88e5" stroke-width="1.3"/>
<circle cx="127.9" cy="432.5" r="2.15" fill="none" stroke="#1e88e5" stroke-width="1.3"/>
<circle cx="127.9" cy="434.4" r="2.15" fill="none" stroke="#1e88e5" stroke-width="1.3"/>
<path d="M143.4 405.5L145.9 408L143.4 410.5L140.9 408Z" fill="none" stroke="#b81c1c" stroke-width="1.3"/>
<path d="M143.4 419.7L145.9 422.2L143.4 424.7L140.9 422.2Z" fill="none" stroke="#b81c1c" stroke-width="1.3"/>
<path d="M143.4 424.9L145.9 427.4L143.4 429.9L140.9 427.4Z" fill="none" stroke="#b81c1c" stroke-width="1.3"/>
<path d="M143.4 430L145.9 432.5L143.4 435L140.9 432.5Z" fill="none" stroke="#b81c1c" stroke-width="1.3"/>
<path d="M143.4 434.4L145.9 436.9L143.4 439.4L140.9 436.9Z" fill="none" stroke="#b81c1c" stroke-width="1.3"/>
<path d="M143.4 440.9L145.9 443.4L143.4 445.9L140.9 443.4Z" fill="none" stroke="#b81c1c" stroke-width="1.3"/>
<circle cx="164.5" cy="398.2" r="2.15" fill="none" stroke="#1e88e5" stroke-width="1.3"/>
<circle cx="164.5" cy="401.6" r="2.15" fill="none" stroke="#1e88e5" stroke-width="1.3"/>
<circle cx="164.5" cy="411.9" r="2.15" fill="none" stroke="#1e88e5" stroke-width="1.3"/>
<circle cx="164.5" cy="415.5" r="2.15" fill="none" stroke="#1e88e5" stroke-width="1.3"/>
<circle cx="164.5" cy="420.7" r="2.15" fill="none" stroke="#1e88e5" stroke-width="1.3"/>
<circle cx="164.5" cy="424" r="2.15" fill="none" stroke="#1e88e5" stroke-width="1.3"/>
<circle cx="164.5" cy="427.4" r="2.15" fill="none" stroke="#1e88e5" stroke-width="1.3"/>
<circle cx="164.5" cy="438.2" r="2.15" fill="none" stroke="#1e88e5" stroke-width="1.3"/>
<path d="M179.5 400.1L182 402.6L179.5 405.1L177 402.6Z" fill="none" stroke="#b81c1c" stroke-width="1.3"/>
<path d="M179.5 402.7L182 405.2L179.5 407.7L177 405.2Z" fill="none" stroke="#b81c1c" stroke-width="1.3"/>
<path d="M179.5 419L182 421.5L179.5 424L177 421.5Z" fill="none" stroke="#b81c1c" stroke-width="1.3"/>
<path d="M179.5 424.1L182 426.6L179.5 429.1L177 426.6Z" fill="none" stroke="#b81c1c" stroke-width="1.3"/>
<path d="M179.5 434.4L182 436.9L179.5 439.4L177 436.9Z" fill="none" stroke="#b81c1c" stroke-width="1.3"/>
<circle cx="200.5" cy="378.4" r="2.15" fill="none" stroke="#1e88e5" stroke-width="1.3"/>
<circle cx="200.5" cy="403.4" r="2.15" fill="none" stroke="#1e88e5" stroke-width="1.3"/>
<circle cx="200.5" cy="410.4" r="2.15" fill="none" stroke="#1e88e5" stroke-width="1.3"/>
<circle cx="200.5" cy="413.7" r="2.15" fill="none" stroke="#1e88e5" stroke-width="1.3"/>
<circle cx="200.5" cy="421.5" r="2.15" fill="none" stroke="#1e88e5" stroke-width="1.3"/>
<circle cx="200.5" cy="424" r="2.15" fill="none" stroke="#1e88e5" stroke-width="1.3"/>
<circle cx="200.5" cy="425.8" r="2.15" fill="none" stroke="#1e88e5" stroke-width="1.3"/>
<circle cx="200.5" cy="432.5" r="2.15" fill="none" stroke="#1e88e5" stroke-width="1.3"/>
<path d="M214.9 405.3L217.4 407.8L214.9 410.3L212.4 407.8Z" fill="none" stroke="#b81c1c" stroke-width="1.3"/>
<path d="M214.9 409.4L217.4 411.9L214.9 414.4L212.4 411.9Z" fill="none" stroke="#b81c1c" stroke-width="1.3"/>
<path d="M214.9 412.5L217.4 415L214.9 417.5L212.4 415Z" fill="none" stroke="#b81c1c" stroke-width="1.3"/>
<path d="M214.9 417.7L217.4 420.2L214.9 422.7L212.4 420.2Z" fill="none" stroke="#b81c1c" stroke-width="1.3"/>
<path d="M214.9 421.5L217.4 424L214.9 426.5L212.4 424Z" fill="none" stroke="#b81c1c" stroke-width="1.3"/>
<path d="M214.9 424.9L217.4 427.4L214.9 429.9L212.4 427.4Z" fill="none" stroke="#b81c1c" stroke-width="1.3"/>
<path d="M214.9 428.5L217.4 431L214.9 433.5L212.4 431Z" fill="none" stroke="#b81c1c" stroke-width="1.3"/>
<circle cx="236.6" cy="380.2" r="2.15" fill="none" stroke="#1e88e5" stroke-width="1.3"/>
<circle cx="236.6" cy="408.5" r="2.15" fill="none" stroke="#1e88e5" stroke-width="1.3"/>
<circle cx="236.6" cy="411.9" r="2.15" fill="none" stroke="#1e88e5" stroke-width="1.3"/>
<circle cx="236.6" cy="420.2" r="2.15" fill="none" stroke="#1e88e5" stroke-width="1.3"/>
<circle cx="236.6" cy="423.3" r="2.15" fill="none" stroke="#1e88e5" stroke-width="1.3"/>
<circle cx="236.6" cy="451.1" r="2.15" fill="none" stroke="#1e88e5" stroke-width="1.3"/>
<path d="M251.6 400.9L254.1 403.4L251.6 405.9L249.1 403.4Z" fill="none" stroke="#b81c1c" stroke-width="1.3"/>
<path d="M251.6 406L254.1 408.5L251.6 411L249.1 408.5Z" fill="none" stroke="#b81c1c" stroke-width="1.3"/>
<path d="M251.6 408.6L254.1 411.1L251.6 413.6L249.1 411.1Z" fill="none" stroke="#b81c1c" stroke-width="1.3"/>
<path d="M251.6 417.1L254.1 419.6L251.6 422.1L249.1 419.6Z" fill="none" stroke="#b81c1c" stroke-width="1.3"/>
<path d="M251.6 424.1L254.1 426.6L251.6 429.1L249.1 426.6Z" fill="none" stroke="#b81c1c" stroke-width="1.3"/>
<path d="M251.6 431.9L254.1 434.4L251.6 436.9L249.1 434.4Z" fill="none" stroke="#b81c1c" stroke-width="1.3"/>
<circle cx="272.5" cy="397.7" r="2.15" fill="none" stroke="#1e88e5" stroke-width="1.3"/>
<circle cx="272.5" cy="410.4" r="2.15" fill="none" stroke="#1e88e5" stroke-width="1.3"/>
<circle cx="274.5" cy="412.4" r="2.15" fill="none" stroke="#1e88e5" stroke-width="1.3"/>
<circle cx="272.5" cy="422.7" r="2.15" fill="none" stroke="#1e88e5" stroke-width="1.3"/>
<circle cx="272.5" cy="431.8" r="2.15" fill="none" stroke="#1e88e5" stroke-width="1.3"/>
<circle cx="272.5" cy="444.7" r="2.15" fill="none" stroke="#1e88e5" stroke-width="1.3"/>
<path d="M287.3 361.7L289.8 364.2L287.3 366.7L284.8 364.2Z" fill="none" stroke="#b81c1c" stroke-width="1.3"/>
<path d="M287.3 388.5L289.8 391L287.3 393.5L284.8 391Z" fill="none" stroke="#b81c1c" stroke-width="1.3"/>
<path d="M287.3 401.7L289.8 404.2L287.3 406.7L284.8 404.2Z" fill="none" stroke="#b81c1c" stroke-width="1.3"/>
<path d="M287.3 406.8L289.8 409.3L287.3 411.8L284.8 409.3Z" fill="none" stroke="#b81c1c" stroke-width="1.3"/>
<path d="M287.3 417.7L289.8 420.2L287.3 422.7L284.8 420.2Z" fill="none" stroke="#b81c1c" stroke-width="1.3"/>
<path d="M287.3 423.3L289.8 425.8L287.3 428.3L284.8 425.8Z" fill="none" stroke="#b81c1c" stroke-width="1.3"/>
<path d="M287.3 437L289.8 439.5L287.3 442L284.8 439.5Z" fill="none" stroke="#b81c1c" stroke-width="1.3"/>
<circle cx="308.4" cy="407.8" r="2.15" fill="none" stroke="#1e88e5" stroke-width="1.3"/>
<circle cx="308.4" cy="416.3" r="2.15" fill="none" stroke="#1e88e5" stroke-width="1.3"/>
<circle cx="308.4" cy="421.5" r="2.15" fill="none" stroke="#1e88e5" stroke-width="1.3"/>
<circle cx="308.4" cy="429.2" r="2.15" fill="none" stroke="#1e88e5" stroke-width="1.3"/>
<circle cx="308.4" cy="432.5" r="2.15" fill="none" stroke="#1e88e5" stroke-width="1.3"/>
<circle cx="308.4" cy="444.7" r="2.15" fill="none" stroke="#1e88e5" stroke-width="1.3"/>
<path d="M324.2 398.3L326.7 400.8L324.2 403.3L321.7 400.8Z" fill="none" stroke="#b81c1c" stroke-width="1.3"/>
<path d="M324.2 411.2L326.7 413.7L324.2 416.2L321.7 413.7Z" fill="none" stroke="#b81c1c" stroke-width="1.3"/>
<path d="M324.2 415.6L326.7 418.1L324.2 420.6L321.7 418.1Z" fill="none" stroke="#b81c1c" stroke-width="1.3"/>
<path d="M324.2 423.3L326.7 425.8L324.2 428.3L321.7 425.8Z" fill="none" stroke="#b81c1c" stroke-width="1.3"/>
<path d="M324.2 429.3L326.7 431.8L324.2 434.3L321.7 431.8Z" fill="none" stroke="#b81c1c" stroke-width="1.3"/>
<path d="M324.2 431.9L326.7 434.4L324.2 436.9L321.7 434.4Z" fill="none" stroke="#b81c1c" stroke-width="1.3"/>
<path d="M324.2 433.7L326.7 436.2L324.2 438.7L321.7 436.2Z" fill="none" stroke="#b81c1c" stroke-width="1.3"/>
<line x1="45.6" y1="334.9" x2="45.6" y2="353.6" stroke="#3c3c3c" stroke-width="1.25" />
<line x1="45.6" y1="357.4" x2="45.6" y2="460.9" stroke="#3c3c3c" stroke-width="1.25" />
<line x1="43.5" y1="353.6" x2="47" y2="353.6" stroke="#3c3c3c" stroke-width="1.2" />
<line x1="44" y1="357.4" x2="47.5" y2="357.4" stroke="#3c3c3c" stroke-width="1.2" />
<line x1="334.6" y1="334.9" x2="334.6" y2="353.6" stroke="#3c3c3c" stroke-width="1.25" />
<line x1="334.6" y1="357.4" x2="334.6" y2="460.9" stroke="#3c3c3c" stroke-width="1.25" />
<line x1="332.5" y1="353.6" x2="336" y2="353.6" stroke="#3c3c3c" stroke-width="1.2" />
<line x1="333" y1="357.4" x2="336.5" y2="357.4" stroke="#3c3c3c" stroke-width="1.2" />
<line x1="45" y1="334.9" x2="335.2" y2="334.9" stroke="#3c3c3c" stroke-width="1.3" />
<line x1="45" y1="460.9" x2="335.2" y2="460.9" stroke="#3c3c3c" stroke-width="1.4" />
<line x1="45.6" y1="460.9" x2="47.8" y2="460.9" stroke="#3c3c3c" stroke-width="1" />
<line x1="334.6" y1="460.9" x2="332.4" y2="460.9" stroke="#3c3c3c" stroke-width="1" />
<line x1="45.6" y1="451.7" x2="47.8" y2="451.7" stroke="#3c3c3c" stroke-width="1" />
<line x1="334.6" y1="451.7" x2="332.4" y2="451.7" stroke="#3c3c3c" stroke-width="1" />
<line x1="45.6" y1="442.5" x2="47.8" y2="442.5" stroke="#3c3c3c" stroke-width="1" />
<line x1="334.6" y1="442.5" x2="332.4" y2="442.5" stroke="#3c3c3c" stroke-width="1" />
<line x1="45.6" y1="433.3" x2="47.8" y2="433.3" stroke="#3c3c3c" stroke-width="1" />
<line x1="334.6" y1="433.3" x2="332.4" y2="433.3" stroke="#3c3c3c" stroke-width="1" />
<line x1="45.6" y1="424.1" x2="47.8" y2="424.1" stroke="#3c3c3c" stroke-width="1" />
<line x1="334.6" y1="424.1" x2="332.4" y2="424.1" stroke="#3c3c3c" stroke-width="1" />
<line x1="45.6" y1="414.9" x2="47.8" y2="414.9" stroke="#3c3c3c" stroke-width="1" />
<line x1="334.6" y1="414.9" x2="332.4" y2="414.9" stroke="#3c3c3c" stroke-width="1" />
<line x1="45.6" y1="405.7" x2="47.8" y2="405.7" stroke="#3c3c3c" stroke-width="1" />
<line x1="334.6" y1="405.7" x2="332.4" y2="405.7" stroke="#3c3c3c" stroke-width="1" />
<line x1="45.6" y1="396.5" x2="47.8" y2="396.5" stroke="#3c3c3c" stroke-width="1" />
<line x1="334.6" y1="396.5" x2="332.4" y2="396.5" stroke="#3c3c3c" stroke-width="1" />
<line x1="45.6" y1="387.3" x2="47.8" y2="387.3" stroke="#3c3c3c" stroke-width="1" />
<line x1="334.6" y1="387.3" x2="332.4" y2="387.3" stroke="#3c3c3c" stroke-width="1" />
<line x1="45.6" y1="378.1" x2="47.8" y2="378.1" stroke="#3c3c3c" stroke-width="1" />
<line x1="334.6" y1="378.1" x2="332.4" y2="378.1" stroke="#3c3c3c" stroke-width="1" />
<line x1="45.6" y1="368.9" x2="47.8" y2="368.9" stroke="#3c3c3c" stroke-width="1" />
<line x1="334.6" y1="368.9" x2="332.4" y2="368.9" stroke="#3c3c3c" stroke-width="1" />
<line x1="45.6" y1="359.7" x2="47.8" y2="359.7" stroke="#3c3c3c" stroke-width="1" />
<line x1="334.6" y1="359.7" x2="332.4" y2="359.7" stroke="#3c3c3c" stroke-width="1" />
<line x1="45.6" y1="352.2" x2="47.8" y2="352.2" stroke="#3c3c3c" stroke-width="1" />
<line x1="334.6" y1="352.2" x2="332.4" y2="352.2" stroke="#3c3c3c" stroke-width="1" />
<line x1="45.6" y1="343.2" x2="47.8" y2="343.2" stroke="#3c3c3c" stroke-width="1" />
<line x1="334.6" y1="343.2" x2="332.4" y2="343.2" stroke="#3c3c3c" stroke-width="1" />
<line x1="45.6" y1="334.9" x2="47.8" y2="334.9" stroke="#3c3c3c" stroke-width="1" />
<line x1="334.6" y1="334.9" x2="332.4" y2="334.9" stroke="#3c3c3c" stroke-width="1" />
<line x1="63.66" y1="334.9" x2="63.66" y2="337.1" stroke="#3c3c3c" stroke-width="1" />
<line x1="63.66" y1="460.9" x2="63.66" y2="458.7" stroke="#3c3c3c" stroke-width="1" />
<line x1="99.79" y1="334.9" x2="99.79" y2="337.1" stroke="#3c3c3c" stroke-width="1" />
<line x1="99.79" y1="460.9" x2="99.79" y2="458.7" stroke="#3c3c3c" stroke-width="1" />
<line x1="135.91" y1="334.9" x2="135.91" y2="337.1" stroke="#3c3c3c" stroke-width="1" />
<line x1="135.91" y1="460.9" x2="135.91" y2="458.7" stroke="#3c3c3c" stroke-width="1" />
<line x1="172.04" y1="334.9" x2="172.04" y2="337.1" stroke="#3c3c3c" stroke-width="1" />
<line x1="172.04" y1="460.9" x2="172.04" y2="458.7" stroke="#3c3c3c" stroke-width="1" />
<line x1="208.16" y1="334.9" x2="208.16" y2="337.1" stroke="#3c3c3c" stroke-width="1" />
<line x1="208.16" y1="460.9" x2="208.16" y2="458.7" stroke="#3c3c3c" stroke-width="1" />
<line x1="244.29" y1="334.9" x2="244.29" y2="337.1" stroke="#3c3c3c" stroke-width="1" />
<line x1="244.29" y1="460.9" x2="244.29" y2="458.7" stroke="#3c3c3c" stroke-width="1" />
<line x1="280.41" y1="334.9" x2="280.41" y2="337.1" stroke="#3c3c3c" stroke-width="1" />
<line x1="280.41" y1="460.9" x2="280.41" y2="458.7" stroke="#3c3c3c" stroke-width="1" />
<line x1="316.54" y1="334.9" x2="316.54" y2="337.1" stroke="#3c3c3c" stroke-width="1" />
<line x1="316.54" y1="460.9" x2="316.54" y2="458.7" stroke="#3c3c3c" stroke-width="1" />
<text transform="translate(40.4,463.24) scale(1.0,1.04)" font-size="9.5" text-anchor="end">0</text>
<text transform="translate(40.4,454.04) scale(1.0,1.04)" font-size="9.5" text-anchor="end">50</text>
<text transform="translate(40.4,444.84) scale(1.0,1.04)" font-size="9.5" text-anchor="end">100</text>
<text transform="translate(40.4,435.64) scale(1.0,1.04)" font-size="9.5" text-anchor="end">150</text>
<text transform="translate(40.4,426.44) scale(1.0,1.04)" font-size="9.5" text-anchor="end">200</text>
<text transform="translate(40.4,417.24) scale(1.0,1.04)" font-size="9.5" text-anchor="end">250</text>
<text transform="translate(40.4,408.04) scale(1.0,1.04)" font-size="9.5" text-anchor="end">300</text>
<text transform="translate(40.4,398.84) scale(1.0,1.04)" font-size="9.5" text-anchor="end">350</text>
<text transform="translate(40.4,389.64) scale(1.0,1.04)" font-size="9.5" text-anchor="end">400</text>
<text transform="translate(40.4,380.44) scale(1.0,1.04)" font-size="9.5" text-anchor="end">450</text>
<text transform="translate(40.4,371.24) scale(1.0,1.04)" font-size="9.5" text-anchor="end">500</text>
<text transform="translate(40.4,361.94) scale(1.0,1.04)" font-size="9.5" text-anchor="end">550</text>
<text transform="translate(40.4,354.54) scale(1.0,1.04)" font-size="9.5" text-anchor="end">700</text>
<text transform="translate(40.4,345.54) scale(1.0,1.04)" font-size="9.5" text-anchor="end">750</text>
<text transform="translate(40.4,337.34) scale(1.0,1.04)" font-size="9.5" text-anchor="end">800</text>
<text transform="translate(63.66,474.1) scale(1,1.04)" font-size="9.5" text-anchor="middle">1</text>
<text transform="translate(99.79,474.1) scale(1,1.04)" font-size="9.5" text-anchor="middle">2</text>
<text transform="translate(135.91,474.1) scale(1,1.04)" font-size="9.5" text-anchor="middle">3</text>
<text transform="translate(172.04,474.1) scale(1,1.04)" font-size="9.5" text-anchor="middle">4</text>
<text transform="translate(208.16,474.1) scale(1,1.04)" font-size="9.5" text-anchor="middle">5</text>
<text transform="translate(244.29,474.1) scale(1,1.04)" font-size="9.5" text-anchor="middle">6</text>
<text transform="translate(280.41,474.1) scale(1,1.04)" font-size="9.5" text-anchor="middle">7</text>
<text transform="translate(316.54,474.1) scale(1,1.04)" font-size="9.5" text-anchor="middle">8</text>
<text transform="translate(9.6,398.85) rotate(-90) scale(1.0,1)" font-size="10" text-anchor="middle">AST [U/L]</text>
<line x1="391.3" y1="450.85" x2="676" y2="450.85" stroke="#d2d2d2" stroke-width="1.0" stroke-dasharray="3.8,3.56" stroke-dashoffset="1.9"/>
<line x1="391.3" y1="440.9" x2="676" y2="440.9" stroke="#d2d2d2" stroke-width="1.0" stroke-dasharray="3.8,3.56" stroke-dashoffset="1.9"/>
<line x1="391.3" y1="430.95" x2="676" y2="430.95" stroke="#d2d2d2" stroke-width="1.0" stroke-dasharray="3.8,3.56" stroke-dashoffset="1.9"/>
<line x1="391.3" y1="421" x2="676" y2="421" stroke="#d2d2d2" stroke-width="1.0" stroke-dasharray="3.8,3.56" stroke-dashoffset="1.9"/>
<line x1="391.3" y1="411.05" x2="676" y2="411.05" stroke="#d2d2d2" stroke-width="1.0" stroke-dasharray="3.8,3.56" stroke-dashoffset="1.9"/>
<line x1="391.3" y1="401.1" x2="676" y2="401.1" stroke="#d2d2d2" stroke-width="1.0" stroke-dasharray="3.8,3.56" stroke-dashoffset="1.9"/>
<line x1="391.3" y1="391.15" x2="676" y2="391.15" stroke="#d2d2d2" stroke-width="1.0" stroke-dasharray="3.8,3.56" stroke-dashoffset="1.9"/>
<line x1="391.3" y1="381.2" x2="676" y2="381.2" stroke="#d2d2d2" stroke-width="1.0" stroke-dasharray="3.8,3.56" stroke-dashoffset="1.9"/>
<line x1="391.3" y1="371.25" x2="676" y2="371.25" stroke="#d2d2d2" stroke-width="1.0" stroke-dasharray="3.8,3.56" stroke-dashoffset="1.9"/>
<line x1="391.3" y1="361.3" x2="676" y2="361.3" stroke="#d2d2d2" stroke-width="1.0" stroke-dasharray="3.8,3.56" stroke-dashoffset="1.9"/>
<line x1="391.3" y1="351.35" x2="676" y2="351.35" stroke="#d2d2d2" stroke-width="1.0" stroke-dasharray="3.8,3.56" stroke-dashoffset="1.9"/>
<line x1="391.3" y1="342.8" x2="676" y2="342.8" stroke="#d2d2d2" stroke-width="1.0" stroke-dasharray="3.8,3.56" stroke-dashoffset="1.9"/>
<rect x="406.8" y="455.4" width="35" height="5.4" fill="#000"/>
<rect x="480" y="455.4" width="35" height="5.4" fill="#000"/>
<rect x="551.9" y="455.4" width="35.7" height="5.4" fill="#000"/>
<line x1="399.7" y1="404.5" x2="399.7" y2="425" stroke="#3a3ae0" stroke-width="1" />
<line x1="413.7" y1="402.6" x2="413.7" y2="428" stroke="#e02a2a" stroke-width="1" />
<line x1="436" y1="412" x2="436" y2="426" stroke="#3a3ae0" stroke-width="1" />
<line x1="449.9" y1="404" x2="449.9" y2="432" stroke="#e02a2a" stroke-width="1" />
<line x1="471.4" y1="418" x2="471.4" y2="433" stroke="#3a3ae0" stroke-width="1" />
<line x1="486.9" y1="418" x2="486.9" y2="433" stroke="#e02a2a" stroke-width="1" />
<line x1="507.5" y1="416" x2="507.5" y2="428" stroke="#3a3ae0" stroke-width="1" />
<line x1="522.5" y1="404.2" x2="522.5" y2="430" stroke="#e02a2a" stroke-width="1" />
<line x1="544.5" y1="403.4" x2="544.5" y2="424" stroke="#3a3ae0" stroke-width="1" />
<line x1="558.7" y1="402" x2="558.7" y2="418" stroke="#e02a2a" stroke-width="1" />
<line x1="580.6" y1="421" x2="580.6" y2="431" stroke="#3a3ae0" stroke-width="1" />
<line x1="595.6" y1="422" x2="595.6" y2="434" stroke="#e02a2a" stroke-width="1" />
<line x1="616.5" y1="419" x2="616.5" y2="429" stroke="#3a3ae0" stroke-width="1" />
<line x1="631.3" y1="411" x2="631.3" y2="431" stroke="#e02a2a" stroke-width="1" />
<line x1="652.4" y1="421" x2="652.4" y2="431" stroke="#3a3ae0" stroke-width="1" />
<line x1="667.4" y1="417" x2="667.4" y2="433" stroke="#e02a2a" stroke-width="1" />
<polyline points="399.7,414.4 436,419.6 471.4,425.8 507.5,423.3 544.5,418.1 580.6,426.6 616.5,424.8 652.4,426.6" fill="none" stroke="#2b2bd6" stroke-width="1.5" stroke-dasharray="5,3.8"/>
<polyline points="413.7,409.2 449.9,417.6 486.9,425.3 522.5,425.8 558.7,409.3 595.6,427.9 631.3,424.8 667.4,426.6" fill="none" stroke="#e03a3a" stroke-width="1.5" stroke-dasharray="5,3.8"/>
<circle cx="399.7" cy="414.4" r="3.5" fill="#0a14f0" stroke="none" stroke-width="0"/>
<path d="M413.7 404.6L418.3 409.2L413.7 413.8L409.1 409.2Z" fill="#f00a0a" stroke="none" stroke-width="0"/>
<circle cx="436" cy="419.6" r="3.5" fill="#0a14f0" stroke="none" stroke-width="0"/>
<path d="M449.9 413L454.5 417.6L449.9 422.2L445.3 417.6Z" fill="#f00a0a" stroke="none" stroke-width="0"/>
<circle cx="471.4" cy="425.8" r="3.5" fill="#0a14f0" stroke="none" stroke-width="0"/>
<path d="M486.9 420.7L491.5 425.3L486.9 429.9L482.3 425.3Z" fill="#f00a0a" stroke="none" stroke-width="0"/>
<circle cx="507.5" cy="423.3" r="3.5" fill="#0a14f0" stroke="none" stroke-width="0"/>
<path d="M522.5 421.2L527.1 425.8L522.5 430.4L517.9 425.8Z" fill="#f00a0a" stroke="none" stroke-width="0"/>
<circle cx="544.5" cy="418.1" r="3.5" fill="#0a14f0" stroke="none" stroke-width="0"/>
<path d="M558.7 404.7L563.3 409.3L558.7 413.9L554.1 409.3Z" fill="#f00a0a" stroke="none" stroke-width="0"/>
<circle cx="580.6" cy="426.6" r="3.5" fill="#0a14f0" stroke="none" stroke-width="0"/>
<path d="M595.6 423.3L600.2 427.9L595.6 432.5L591 427.9Z" fill="#f00a0a" stroke="none" stroke-width="0"/>
<circle cx="616.5" cy="424.8" r="3.5" fill="#0a14f0" stroke="none" stroke-width="0"/>
<path d="M631.3 420.2L635.9 424.8L631.3 429.4L626.7 424.8Z" fill="#f00a0a" stroke="none" stroke-width="0"/>
<circle cx="652.4" cy="426.6" r="3.5" fill="#0a14f0" stroke="none" stroke-width="0"/>
<path d="M667.4 422L672 426.6L667.4 431.2L662.8 426.6Z" fill="#f00a0a" stroke="none" stroke-width="0"/>
<circle cx="399.7" cy="366" r="2.15" fill="none" stroke="#1e88e5" stroke-width="1.3"/>
<circle cx="399.7" cy="376.8" r="2.15" fill="none" stroke="#1e88e5" stroke-width="1.3"/>
<circle cx="399.7" cy="404.5" r="2.15" fill="none" stroke="#1e88e5" stroke-width="1.3"/>
<circle cx="399.7" cy="408.7" r="2.15" fill="none" stroke="#1e88e5" stroke-width="1.3"/>
<circle cx="399.7" cy="420.1" r="2.15" fill="none" stroke="#1e88e5" stroke-width="1.3"/>
<circle cx="399.7" cy="425.6" r="2.15" fill="none" stroke="#1e88e5" stroke-width="1.3"/>
<circle cx="399.7" cy="429" r="2.15" fill="none" stroke="#1e88e5" stroke-width="1.3"/>
<path d="M413.7 337.1L416.2 339.6L413.7 342.1L411.2 339.6Z" fill="none" stroke="#b81c1c" stroke-width="1.3"/>
<path d="M413.7 378.4L416.2 380.9L413.7 383.4L411.2 380.9Z" fill="none" stroke="#b81c1c" stroke-width="1.3"/>
<path d="M413.7 387.2L416.2 389.7L413.7 392.2L411.2 389.7Z" fill="none" stroke="#b81c1c" stroke-width="1.3"/>
<path d="M413.7 393.1L416.2 395.6L413.7 398.1L411.2 395.6Z" fill="none" stroke="#b81c1c" stroke-width="1.3"/>
<path d="M413.7 400.1L416.2 402.6L413.7 405.1L411.2 402.6Z" fill="none" stroke="#b81c1c" stroke-width="1.3"/>
<path d="M413.7 412.5L416.2 415L413.7 417.5L411.2 415Z" fill="none" stroke="#b81c1c" stroke-width="1.3"/>
<path d="M413.7 425.5L416.2 428L413.7 430.5L411.2 428Z" fill="none" stroke="#b81c1c" stroke-width="1.3"/>
<path d="M413.7 428.1L416.2 430.6L413.7 433.1L411.2 430.6Z" fill="none" stroke="#b81c1c" stroke-width="1.3"/>
<path d="M413.7 431.8L416.2 434.3L413.7 436.8L411.2 434.3Z" fill="none" stroke="#b81c1c" stroke-width="1.3"/>
<path d="M413.7 436.1L416.2 438.6L413.7 441.1L411.2 438.6Z" fill="none" stroke="#b81c1c" stroke-width="1.3"/>
<circle cx="436" cy="409.8" r="2.15" fill="none" stroke="#1e88e5" stroke-width="1.3"/>
<circle cx="436" cy="412.4" r="2.15" fill="none" stroke="#1e88e5" stroke-width="1.3"/>
<circle cx="436" cy="415.5" r="2.15" fill="none" stroke="#1e88e5" stroke-width="1.3"/>
<circle cx="436" cy="424" r="2.15" fill="none" stroke="#1e88e5" stroke-width="1.3"/>
<circle cx="436" cy="429.2" r="2.15" fill="none" stroke="#1e88e5" stroke-width="1.3"/>
<circle cx="436" cy="433.1" r="2.15" fill="none" stroke="#1e88e5" stroke-width="1.3"/>
<path d="M449.9 394.5L452.4 397L449.9 399.5L447.4 397Z" fill="none" stroke="#b81c1c" stroke-width="1.3"/>
<path d="M449.9 401.7L452.4 404.2L449.9 406.7L447.4 404.2Z" fill="none" stroke="#b81c1c" stroke-width="1.3"/>
<path d="M449.9 404.8L452.4 407.3L449.9 409.8L447.4 407.3Z" fill="none" stroke="#b81c1c" stroke-width="1.3"/>
<path d="M449.9 429.3L452.4 431.8L449.9 434.3L447.4 431.8Z" fill="none" stroke="#b81c1c" stroke-width="1.3"/>
<path d="M449.9 432.6L452.4 435.1L449.9 437.6L447.4 435.1Z" fill="none" stroke="#b81c1c" stroke-width="1.3"/>
<circle cx="471.4" cy="389.2" r="2.15" fill="none" stroke="#1e88e5" stroke-width="1.3"/>
<circle cx="471.4" cy="417.6" r="2.15" fill="none" stroke="#1e88e5" stroke-width="1.3"/>
<circle cx="471.4" cy="429" r="2.15" fill="none" stroke="#1e88e5" stroke-width="1.3"/>
<circle cx="471.4" cy="433.1" r="2.15" fill="none" stroke="#1e88e5" stroke-width="1.3"/>
<circle cx="471.4" cy="436.2" r="2.15" fill="none" stroke="#1e88e5" stroke-width="1.3"/>
<circle cx="471.4" cy="438.2" r="2.15" fill="none" stroke="#1e88e5" stroke-width="1.3"/>
<path d="M486.9 413L489.4 415.5L486.9 418L484.4 415.5Z" fill="none" stroke="#b81c1c" stroke-width="1.3"/>
<path d="M486.9 419L489.4 421.5L486.9 424L484.4 421.5Z" fill="none" stroke="#b81c1c" stroke-width="1.3"/>
<path d="M486.9 425.9L489.4 428.4L486.9 430.9L484.4 428.4Z" fill="none" stroke="#b81c1c" stroke-width="1.3"/>
<path d="M486.9 430.6L489.4 433.1L486.9 435.6L484.4 433.1Z" fill="none" stroke="#b81c1c" stroke-width="1.3"/>
<path d="M486.9 433.7L489.4 436.2L486.9 438.7L484.4 436.2Z" fill="none" stroke="#b81c1c" stroke-width="1.3"/>
<path d="M486.9 437L489.4 439.5L486.9 442L484.4 439.5Z" fill="none" stroke="#b81c1c" stroke-width="1.3"/>
<circle cx="507.5" cy="392.3" r="2.15" fill="none" stroke="#1e88e5" stroke-width="1.3"/>
<circle cx="507.5" cy="415.5" r="2.15" fill="none" stroke="#1e88e5" stroke-width="1.3"/>
<circle cx="507.5" cy="418.1" r="2.15" fill="none" stroke="#1e88e5" stroke-width="1.3"/>
<circle cx="507.5" cy="421.5" r="2.15" fill="none" stroke="#1e88e5" stroke-width="1.3"/>
<circle cx="507.5" cy="427.9" r="2.15" fill="none" stroke="#1e88e5" stroke-width="1.3"/>
<circle cx="507.5" cy="431" r="2.15" fill="none" stroke="#1e88e5" stroke-width="1.3"/>
<path d="M522.5 394.4L525 396.9L522.5 399.4L520 396.9Z" fill="none" stroke="#b81c1c" stroke-width="1.3"/>
<path d="M522.5 397.5L525 400L522.5 402.5L520 400Z" fill="none" stroke="#b81c1c" stroke-width="1.3"/>
<path d="M522.5 401.7L525 404.2L522.5 406.7L520 404.2Z" fill="none" stroke="#b81c1c" stroke-width="1.3"/>
<path d="M522.5 428L525 430.5L522.5 433L520 430.5Z" fill="none" stroke="#b81c1c" stroke-width="1.3"/>
<path d="M522.5 430L525 432.5L522.5 435L520 432.5Z" fill="none" stroke="#b81c1c" stroke-width="1.3"/>
<path d="M522.5 436.2L525 438.7L522.5 441.2L520 438.7Z" fill="none" stroke="#b81c1c" stroke-width="1.3"/>
<circle cx="544.5" cy="377.6" r="2.15" fill="none" stroke="#1e88e5" stroke-width="1.3"/>
<circle cx="544.5" cy="389.2" r="2.15" fill="none" stroke="#1e88e5" stroke-width="1.3"/>
<circle cx="544.5" cy="403.4" r="2.15" fill="none" stroke="#1e88e5" stroke-width="1.3"/>
<circle cx="544.5" cy="421" r="2.15" fill="none" stroke="#1e88e5" stroke-width="1.3"/>
<circle cx="544.5" cy="424" r="2.15" fill="none" stroke="#1e88e5" stroke-width="1.3"/>
<circle cx="544.5" cy="433.6" r="2.15" fill="none" stroke="#1e88e5" stroke-width="1.3"/>
<path d="M558.7 351.9L561.2 354.4L558.7 356.9L556.2 354.4Z" fill="none" stroke="#b81c1c" stroke-width="1.3"/>
<path d="M558.7 393.1L561.2 395.6L558.7 398.1L556.2 395.6Z" fill="none" stroke="#b81c1c" stroke-width="1.3"/>
<path d="M558.7 399.6L561.2 402.1L558.7 404.6L556.2 402.1Z" fill="none" stroke="#b81c1c" stroke-width="1.3"/>
<path d="M558.7 402.7L561.2 405.2L558.7 407.7L556.2 405.2Z" fill="none" stroke="#b81c1c" stroke-width="1.3"/>
<path d="M558.7 409.9L561.2 412.4L558.7 414.9L556.2 412.4Z" fill="none" stroke="#b81c1c" stroke-width="1.3"/>
<path d="M558.7 413.8L561.2 416.3L558.7 418.8L556.2 416.3Z" fill="none" stroke="#b81c1c" stroke-width="1.3"/>
<path d="M558.7 416.4L561.2 418.9L558.7 421.4L556.2 418.9Z" fill="none" stroke="#b81c1c" stroke-width="1.3"/>
<path d="M558.7 420.8L561.2 423.3L558.7 425.8L556.2 423.3Z" fill="none" stroke="#b81c1c" stroke-width="1.3"/>
<circle cx="580.6" cy="404.7" r="2.15" fill="none" stroke="#1e88e5" stroke-width="1.3"/>
<circle cx="580.6" cy="413.7" r="2.15" fill="none" stroke="#1e88e5" stroke-width="1.3"/>
<circle cx="580.6" cy="421.5" r="2.15" fill="none" stroke="#1e88e5" stroke-width="1.3"/>
<circle cx="580.6" cy="429.2" r="2.15" fill="none" stroke="#1e88e5" stroke-width="1.3"/>
<circle cx="580.6" cy="431.8" r="2.15" fill="none" stroke="#1e88e5" stroke-width="1.3"/>
<circle cx="580.6" cy="434.4" r="2.15" fill="none" stroke="#1e88e5" stroke-width="1.3"/>
<path d="M595.6 409.4L598.1 411.9L595.6 414.4L593.1 411.9Z" fill="none" stroke="#b81c1c" stroke-width="1.3"/>
<path d="M595.6 420.2L598.1 422.7L595.6 425.2L593.1 422.7Z" fill="none" stroke="#b81c1c" stroke-width="1.3"/>
<path d="M595.6 428.5L598.1 431L595.6 433.5L593.1 431Z" fill="none" stroke="#b81c1c" stroke-width="1.3"/>
<path d="M595.6 431.9L598.1 434.4L595.6 436.9L593.1 434.4Z" fill="none" stroke="#b81c1c" stroke-width="1.3"/>
<path d="M595.6 436.2L598.1 438.7L595.6 441.2L593.1 438.7Z" fill="none" stroke="#b81c1c" stroke-width="1.3"/>
<circle cx="616.5" cy="414.5" r="2.15" fill="none" stroke="#1e88e5" stroke-width="1.3"/>
<circle cx="616.5" cy="418.9" r="2.15" fill="none" stroke="#1e88e5" stroke-width="1.3"/>
<circle cx="616.5" cy="422.2" r="2.15" fill="none" stroke="#1e88e5" stroke-width="1.3"/>
<circle cx="616.5" cy="427.4" r="2.15" fill="none" stroke="#1e88e5" stroke-width="1.3"/>
<circle cx="616.5" cy="432.5" r="2.15" fill="none" stroke="#1e88e5" stroke-width="1.3"/>
<path d="M631.3 391.9L633.8 394.4L631.3 396.9L628.8 394.4Z" fill="none" stroke="#b81c1c" stroke-width="1.3"/>
<path d="M631.3 402.7L633.8 405.2L631.3 407.7L628.8 405.2Z" fill="none" stroke="#b81c1c" stroke-width="1.3"/>
<path d="M631.3 408.6L633.8 411.1L631.3 413.6L628.8 411.1Z" fill="none" stroke="#b81c1c" stroke-width="1.3"/>
<path d="M631.3 417.7L633.8 420.2L631.3 422.7L628.8 420.2Z" fill="none" stroke="#b81c1c" stroke-width="1.3"/>
<path d="M631.3 425.4L633.8 427.9L631.3 430.4L628.8 427.9Z" fill="none" stroke="#b81c1c" stroke-width="1.3"/>
<path d="M631.3 428.5L633.8 431L631.3 433.5L628.8 431Z" fill="none" stroke="#b81c1c" stroke-width="1.3"/>
<circle cx="652.4" cy="420.2" r="2.15" fill="none" stroke="#1e88e5" stroke-width="1.3"/>
<circle cx="652.4" cy="423.3" r="2.15" fill="none" stroke="#1e88e5" stroke-width="1.3"/>
<circle cx="652.4" cy="430" r="2.15" fill="none" stroke="#1e88e5" stroke-width="1.3"/>
<circle cx="652.4" cy="439.5" r="2.15" fill="none" stroke="#1e88e5" stroke-width="1.3"/>
<circle cx="652.4" cy="445.5" r="2.15" fill="none" stroke="#1e88e5" stroke-width="1.3"/>
<path d="M667.4 404.2L669.9 406.7L667.4 409.2L664.9 406.7Z" fill="none" stroke="#b81c1c" stroke-width="1.3"/>
<path d="M667.4 413L669.9 415.5L667.4 418L664.9 415.5Z" fill="none" stroke="#b81c1c" stroke-width="1.3"/>
<path d="M667.4 419L669.9 421.5L667.4 424L664.9 421.5Z" fill="none" stroke="#b81c1c" stroke-width="1.3"/>
<path d="M667.4 430L669.9 432.5L667.4 435L664.9 432.5Z" fill="none" stroke="#b81c1c" stroke-width="1.3"/>
<path d="M667.4 446L669.9 448.5L667.4 451L664.9 448.5Z" fill="none" stroke="#b81c1c" stroke-width="1.3"/>
<line x1="389.3" y1="335.2" x2="389.3" y2="345.2" stroke="#3c3c3c" stroke-width="1.25" />
<line x1="389.3" y1="348.4" x2="389.3" y2="460.8" stroke="#3c3c3c" stroke-width="1.25" />
<line x1="387.2" y1="345.2" x2="390.7" y2="345.2" stroke="#3c3c3c" stroke-width="1.2" />
<line x1="387.7" y1="348.4" x2="391.2" y2="348.4" stroke="#3c3c3c" stroke-width="1.2" />
<line x1="678" y1="335.2" x2="678" y2="345.2" stroke="#3c3c3c" stroke-width="1.25" />
<line x1="678" y1="348.4" x2="678" y2="460.8" stroke="#3c3c3c" stroke-width="1.25" />
<line x1="675.9" y1="345.2" x2="679.4" y2="345.2" stroke="#3c3c3c" stroke-width="1.2" />
<line x1="676.4" y1="348.4" x2="679.9" y2="348.4" stroke="#3c3c3c" stroke-width="1.2" />
<line x1="388.7" y1="335.2" x2="678.6" y2="335.2" stroke="#3c3c3c" stroke-width="1.3" />
<line x1="388.7" y1="460.8" x2="678.6" y2="460.8" stroke="#3c3c3c" stroke-width="1.4" />
<line x1="389.3" y1="460.8" x2="391.5" y2="460.8" stroke="#3c3c3c" stroke-width="1" />
<line x1="678" y1="460.8" x2="675.8" y2="460.8" stroke="#3c3c3c" stroke-width="1" />
<line x1="389.3" y1="450.85" x2="391.5" y2="450.85" stroke="#3c3c3c" stroke-width="1" />
<line x1="678" y1="450.85" x2="675.8" y2="450.85" stroke="#3c3c3c" stroke-width="1" />
<line x1="389.3" y1="440.9" x2="391.5" y2="440.9" stroke="#3c3c3c" stroke-width="1" />
<line x1="678" y1="440.9" x2="675.8" y2="440.9" stroke="#3c3c3c" stroke-width="1" />
<line x1="389.3" y1="430.95" x2="391.5" y2="430.95" stroke="#3c3c3c" stroke-width="1" />
<line x1="678" y1="430.95" x2="675.8" y2="430.95" stroke="#3c3c3c" stroke-width="1" />
<line x1="389.3" y1="421" x2="391.5" y2="421" stroke="#3c3c3c" stroke-width="1" />
<line x1="678" y1="421" x2="675.8" y2="421" stroke="#3c3c3c" stroke-width="1" />
<line x1="389.3" y1="411.05" x2="391.5" y2="411.05" stroke="#3c3c3c" stroke-width="1" />
<line x1="678" y1="411.05" x2="675.8" y2="411.05" stroke="#3c3c3c" stroke-width="1" />
<line x1="389.3" y1="401.1" x2="391.5" y2="401.1" stroke="#3c3c3c" stroke-width="1" />
<line x1="678" y1="401.1" x2="675.8" y2="401.1" stroke="#3c3c3c" stroke-width="1" />
<line x1="389.3" y1="391.15" x2="391.5" y2="391.15" stroke="#3c3c3c" stroke-width="1" />
<line x1="678" y1="391.15" x2="675.8" y2="391.15" stroke="#3c3c3c" stroke-width="1" />
<line x1="389.3" y1="381.2" x2="391.5" y2="381.2" stroke="#3c3c3c" stroke-width="1" />
<line x1="678" y1="381.2" x2="675.8" y2="381.2" stroke="#3c3c3c" stroke-width="1" />
<line x1="389.3" y1="371.25" x2="391.5" y2="371.25" stroke="#3c3c3c" stroke-width="1" />
<line x1="678" y1="371.25" x2="675.8" y2="371.25" stroke="#3c3c3c" stroke-width="1" />
<line x1="389.3" y1="361.3" x2="391.5" y2="361.3" stroke="#3c3c3c" stroke-width="1" />
<line x1="678" y1="361.3" x2="675.8" y2="361.3" stroke="#3c3c3c" stroke-width="1" />
<line x1="389.3" y1="351.35" x2="391.5" y2="351.35" stroke="#3c3c3c" stroke-width="1" />
<line x1="678" y1="351.35" x2="675.8" y2="351.35" stroke="#3c3c3c" stroke-width="1" />
<line x1="389.3" y1="342.8" x2="391.5" y2="342.8" stroke="#3c3c3c" stroke-width="1" />
<line x1="678" y1="342.8" x2="675.8" y2="342.8" stroke="#3c3c3c" stroke-width="1" />
<line x1="389.3" y1="335.2" x2="391.5" y2="335.2" stroke="#3c3c3c" stroke-width="1" />
<line x1="678" y1="335.2" x2="675.8" y2="335.2" stroke="#3c3c3c" stroke-width="1" />
<line x1="407.34" y1="335.2" x2="407.34" y2="337.4" stroke="#3c3c3c" stroke-width="1" />
<line x1="407.34" y1="460.8" x2="407.34" y2="458.6" stroke="#3c3c3c" stroke-width="1" />
<line x1="443.43" y1="335.2" x2="443.43" y2="337.4" stroke="#3c3c3c" stroke-width="1" />
<line x1="443.43" y1="460.8" x2="443.43" y2="458.6" stroke="#3c3c3c" stroke-width="1" />
<line x1="479.52" y1="335.2" x2="479.52" y2="337.4" stroke="#3c3c3c" stroke-width="1" />
<line x1="479.52" y1="460.8" x2="479.52" y2="458.6" stroke="#3c3c3c" stroke-width="1" />
<line x1="515.61" y1="335.2" x2="515.61" y2="337.4" stroke="#3c3c3c" stroke-width="1" />
<line x1="515.61" y1="460.8" x2="515.61" y2="458.6" stroke="#3c3c3c" stroke-width="1" />
<line x1="551.69" y1="335.2" x2="551.69" y2="337.4" stroke="#3c3c3c" stroke-width="1" />
<line x1="551.69" y1="460.8" x2="551.69" y2="458.6" stroke="#3c3c3c" stroke-width="1" />
<line x1="587.78" y1="335.2" x2="587.78" y2="337.4" stroke="#3c3c3c" stroke-width="1" />
<line x1="587.78" y1="460.8" x2="587.78" y2="458.6" stroke="#3c3c3c" stroke-width="1" />
<line x1="623.87" y1="335.2" x2="623.87" y2="337.4" stroke="#3c3c3c" stroke-width="1" />
<line x1="623.87" y1="460.8" x2="623.87" y2="458.6" stroke="#3c3c3c" stroke-width="1" />
<line x1="659.96" y1="335.2" x2="659.96" y2="337.4" stroke="#3c3c3c" stroke-width="1" />
<line x1="659.96" y1="460.8" x2="659.96" y2="458.6" stroke="#3c3c3c" stroke-width="1" />
<text transform="translate(384,463.14) scale(1.0,1.04)" font-size="9.5" text-anchor="end">0</text>
<text transform="translate(384,453.19) scale(1.0,1.04)" font-size="9.5" text-anchor="end">50</text>
<text transform="translate(384,443.24) scale(1.0,1.04)" font-size="9.5" text-anchor="end">100</text>
<text transform="translate(384,433.29) scale(1.0,1.04)" font-size="9.5" text-anchor="end">150</text>
<text transform="translate(384,423.34) scale(1.0,1.04)" font-size="9.5" text-anchor="end">200</text>
<text transform="translate(384,413.39) scale(1.0,1.04)" font-size="9.5" text-anchor="end">250</text>
<text transform="translate(384,403.44) scale(1.0,1.04)" font-size="9.5" text-anchor="end">300</text>
<text transform="translate(384,393.49) scale(1.0,1.04)" font-size="9.5" text-anchor="end">350</text>
<text transform="translate(384,383.54) scale(1.0,1.04)" font-size="9.5" text-anchor="end">400</text>
<text transform="translate(384,373.59) scale(1.0,1.04)" font-size="9.5" text-anchor="end">450</text>
<text transform="translate(384,363.64) scale(1.0,1.04)" font-size="9.5" text-anchor="end">500</text>
<text transform="translate(384,353.69) scale(1.0,1.04)" font-size="9.5" text-anchor="end">550</text>
<text transform="translate(384,345.14) scale(1.0,1.04)" font-size="9.5" text-anchor="end">700</text>
<text transform="translate(384,337.74) scale(1.0,1.04)" font-size="9.5" text-anchor="end">750</text>
<text transform="translate(407.34,474) scale(1,1.04)" font-size="9.5" text-anchor="middle">1</text>
<text transform="translate(443.43,474) scale(1,1.04)" font-size="9.5" text-anchor="middle">2</text>
<text transform="translate(479.52,474) scale(1,1.04)" font-size="9.5" text-anchor="middle">3</text>
<text transform="translate(515.61,474) scale(1,1.04)" font-size="9.5" text-anchor="middle">4</text>
<text transform="translate(551.69,474) scale(1,1.04)" font-size="9.5" text-anchor="middle">5</text>
<text transform="translate(587.78,474) scale(1,1.04)" font-size="9.5" text-anchor="middle">6</text>
<text transform="translate(623.87,474) scale(1,1.04)" font-size="9.5" text-anchor="middle">7</text>
<text transform="translate(659.96,474) scale(1,1.04)" font-size="9.5" text-anchor="middle">8</text>
<text transform="translate(353.2,404.35) rotate(-90) scale(1.0,1)" font-size="10" text-anchor="middle">LDH [U/L]</text>
<line x1="55.6" y1="12.3" x2="55.6" y2="22" stroke="#e02a2a" stroke-width="1" />
<line x1="51.6" y1="12.3" x2="59.9" y2="12.3" stroke="#e02a2a" stroke-width="1" />
<line x1="51.6" y1="22" x2="59.9" y2="22" stroke="#e02a2a" stroke-width="1" />
<path d="M55.6 13.1L59.4 16.9L55.6 20.7L51.8 16.9Z" fill="#f00a0a" stroke="none" stroke-width="0"/>
<path d="M65.6 15L67.5 16.9L65.6 18.8L63.7 16.9Z" fill="none" stroke="#b81c1c" stroke-width="1.1"/>
<text x="70.8" y="20.2" font-size="9.8" text-anchor="start" >experimental group</text>
<line x1="55.6" y1="24.7" x2="55.6" y2="34.2" stroke="#3a3ae0" stroke-width="1" />
<line x1="51.6" y1="24.7" x2="59.9" y2="24.7" stroke="#3a3ae0" stroke-width="1" />
<line x1="51.6" y1="34.2" x2="59.9" y2="34.2" stroke="#3a3ae0" stroke-width="1" />
<circle cx="55.6" cy="29.7" r="3" fill="#0a14f0" stroke="none" stroke-width="0"/>
<circle cx="65.6" cy="29.7" r="1.9" fill="none" stroke="#1e88e5" stroke-width="1.1"/>
<text x="70.8" y="33" font-size="9.8" text-anchor="start" >control group</text>
<text x="345.4" y="501.3" font-size="12.1" text-anchor="middle" >Blood collection</text>
</svg>
</body></html>
